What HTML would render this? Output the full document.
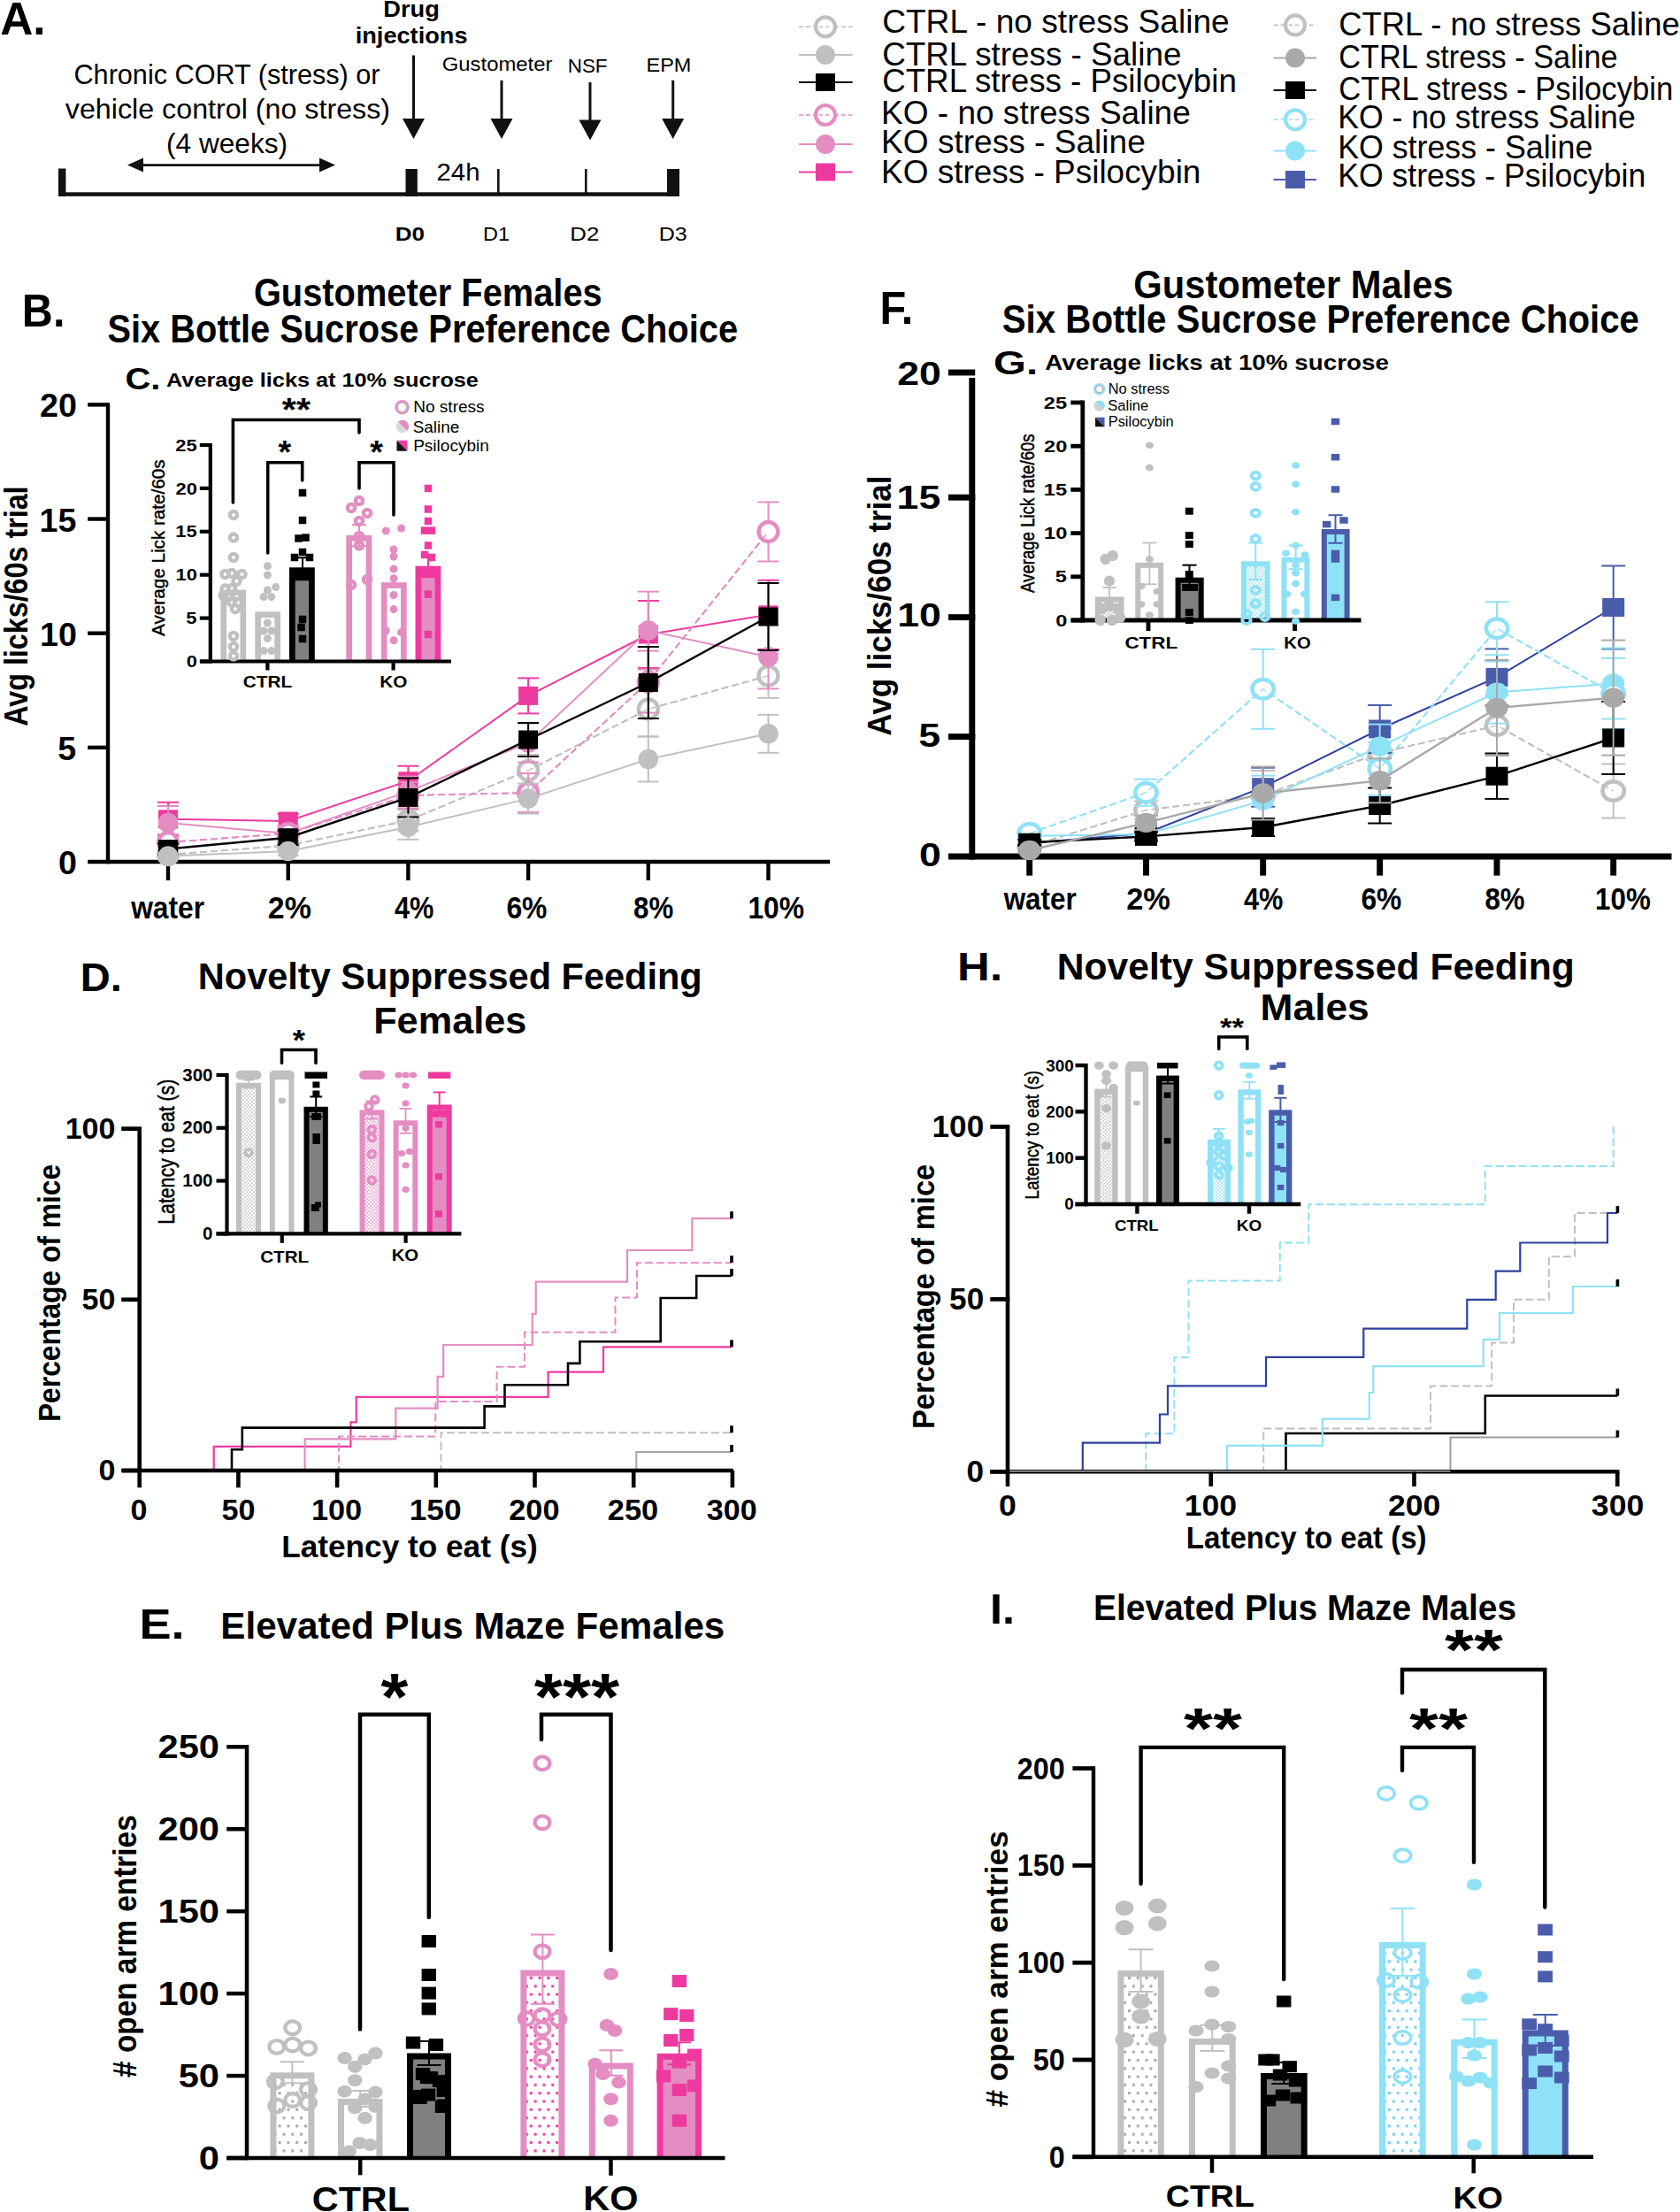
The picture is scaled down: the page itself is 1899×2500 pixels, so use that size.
<!DOCTYPE html>
<html lang="en"><head><meta charset="utf-8"><title>Figure</title>
<style>html,body{margin:0;padding:0;background:#fff}svg{display:block}text{font-family:"Liberation Sans",sans-serif}</style>
</head><body>
<svg width="1899" height="2500" viewBox="0 0 1899 2500">
<rect width="1899" height="2500" fill="#fff"/>
<defs>
<pattern id="psg" width="4" height="4" patternUnits="userSpaceOnUse"><rect width="4" height="4" fill="#fff"/><rect x="0.3" y="0.3" width="1.6" height="1.6" fill="#c0c0c0"/><rect x="2.3" y="2.3" width="1.6" height="1.6" fill="#c0c0c0"/></pattern>
<pattern id="psp" width="4" height="4" patternUnits="userSpaceOnUse"><rect width="4" height="4" fill="#fff"/><rect x="0.3" y="0.3" width="1.6" height="1.6" fill="#e38dc3"/><rect x="2.3" y="2.3" width="1.6" height="1.6" fill="#e38dc3"/></pattern>
<pattern id="psb" width="4" height="4" patternUnits="userSpaceOnUse"><rect width="4" height="4" fill="#fff"/><rect x="0.3" y="0.3" width="1.6" height="1.6" fill="#8fe1f6"/><rect x="2.3" y="2.3" width="1.6" height="1.6" fill="#8fe1f6"/></pattern>
<pattern id="pbg" width="9.8" height="18.6" patternUnits="userSpaceOnUse"><rect width="9.8" height="18.6" fill="#fff"/><rect x="1" y="2" width="3" height="3" fill="#a8a8a8"/><rect x="5.9" y="11.3" width="3" height="3" fill="#a8a8a8"/></pattern>
<pattern id="pbp" width="9.8" height="18.6" patternUnits="userSpaceOnUse"><rect width="9.8" height="18.6" fill="#fff"/><rect x="1" y="2" width="3" height="3" fill="#ee3a9f"/><rect x="5.9" y="11.3" width="3" height="3" fill="#ee3a9f"/></pattern>
<pattern id="pbb" width="9.8" height="18.6" patternUnits="userSpaceOnUse"><rect width="9.8" height="18.6" fill="#fff"/><rect x="1" y="2" width="3" height="3" fill="#6fd0ee"/><rect x="5.9" y="11.3" width="3" height="3" fill="#6fd0ee"/></pattern>
</defs>
<text font-size="52" font-weight="bold" textLength="51.38" lengthAdjust="spacingAndGlyphs" x="0.22" y="39">A.</text>
<text font-size="31.2" textLength="346.1" lengthAdjust="spacingAndGlyphs" x="83.47" y="95">Chronic CORT (stress) or</text>
<text font-size="31.2" textLength="367.2" lengthAdjust="spacingAndGlyphs" x="73.84" y="134">vehicle control (no stress)</text>
<text font-size="31.2" textLength="136.94" lengthAdjust="spacingAndGlyphs" x="188.1" y="172.6">(4 weeks)</text>
<line x1="158" y1="186.6" x2="365" y2="186.6" stroke="#111" stroke-width="2.6"/>
<polygon points="144,186.6 162,178.6 162,194.6" fill="#111"/>
<polygon points="379,186.6 361,178.6 361,194.6" fill="#111"/>
<rect x="66" y="217.3" width="702" height="4.5" fill="#111"/>
<rect x="66" y="190.5" width="8.4" height="31.3" fill="#111"/>
<rect x="458.5" y="191" width="13.3" height="30.8" fill="#111"/>
<rect x="754" y="191" width="14" height="30.8" fill="#111"/>
<line x1="563.3" y1="191" x2="563.3" y2="219" stroke="#111" stroke-width="2.6"/>
<line x1="662.3" y1="191" x2="662.3" y2="219" stroke="#111" stroke-width="2.6"/>
<text font-size="26" font-weight="bold" textLength="63.63" lengthAdjust="spacingAndGlyphs" x="433.23" y="19">Drug</text>
<text font-size="26" font-weight="bold" textLength="126.86" lengthAdjust="spacingAndGlyphs" x="401.7" y="49">injections</text>
<line x1="467.5" y1="62.5" x2="467.5" y2="136" stroke="#111" stroke-width="3"/>
<polygon points="455,134 480,134 467.5,157" fill="#111"/>
<text font-size="22.36" textLength="124.65" lengthAdjust="spacingAndGlyphs" x="499.81" y="80">Gustometer</text>
<line x1="567" y1="90.8" x2="567" y2="136" stroke="#111" stroke-width="3"/>
<polygon points="554.5,134 579.5,134 567,157" fill="#111"/>
<text font-size="22.36" textLength="44.9" lengthAdjust="spacingAndGlyphs" x="641.7" y="82">NSF</text>
<line x1="667" y1="93" x2="667" y2="137.6" stroke="#111" stroke-width="3"/>
<polygon points="654.5,135.6 679.5,135.6 667,158.6" fill="#111"/>
<text font-size="22.36" textLength="50.91" lengthAdjust="spacingAndGlyphs" x="730.52" y="81">EPM</text>
<line x1="760.7" y1="90.8" x2="760.7" y2="136" stroke="#111" stroke-width="3"/>
<polygon points="748.2,134 773.2,134 760.7,157" fill="#111"/>
<text font-size="27.04" textLength="48.98" lengthAdjust="spacingAndGlyphs" x="493.53" y="203.5">24h</text>
<text font-size="22.88" font-weight="bold" textLength="33.32" lengthAdjust="spacingAndGlyphs" x="446.81" y="272">D0</text>
<text font-size="22.88" textLength="30.01" lengthAdjust="spacingAndGlyphs" x="546.12" y="272">D1</text>
<text font-size="22.88" textLength="33.05" lengthAdjust="spacingAndGlyphs" x="644.33" y="272">D2</text>
<text font-size="22.88" textLength="31.99" lengthAdjust="spacingAndGlyphs" x="744.7" y="272">D3</text>
<line x1="903" y1="30.3" x2="963.6" y2="30.3" stroke="#c0c0c0" stroke-width="1.6" stroke-dasharray="5 3"/>
<circle cx="933" cy="30.3" r="11" fill="#fff" stroke="#c0c0c0" stroke-width="4.2"/>
<line x1="926" y1="30.3" x2="940" y2="30.3" stroke="#c0c0c0" stroke-width="1.6" stroke-dasharray="4 3"/>
<text font-size="37.34" textLength="392.63" lengthAdjust="spacingAndGlyphs" x="997.14" y="37.4">CTRL - no stress Saline</text>
<line x1="903" y1="62" x2="963.6" y2="62" stroke="#c0c0c0" stroke-width="1.8"/>
<circle cx="933" cy="62" r="11" fill="#c0c0c0"/>
<text font-size="37.34" textLength="338.2" lengthAdjust="spacingAndGlyphs" x="997.16" y="73.8">CTRL stress - Saline</text>
<line x1="903" y1="93" x2="963.6" y2="93" stroke="#000000" stroke-width="2.2"/>
<rect x="922" y="83" width="22" height="20" fill="#000000"/>
<text font-size="37.34" textLength="400.72" lengthAdjust="spacingAndGlyphs" x="997.16" y="104.1">CTRL stress - Psilocybin</text>
<line x1="903" y1="130" x2="963.6" y2="130" stroke="#e38dc3" stroke-width="1.6" stroke-dasharray="5 3"/>
<circle cx="933" cy="130" r="11" fill="#fff" stroke="#e38dc3" stroke-width="4.2"/>
<line x1="926" y1="130" x2="940" y2="130" stroke="#e38dc3" stroke-width="1.6" stroke-dasharray="4 3"/>
<text font-size="37.34" textLength="349.75" lengthAdjust="spacingAndGlyphs" x="996.04" y="139.7">KO - no stress Saline</text>
<line x1="903" y1="163" x2="963.6" y2="163" stroke="#e38dc3" stroke-width="1.8"/>
<circle cx="933" cy="163" r="11" fill="#e38dc3"/>
<text font-size="37.34" textLength="298.76" lengthAdjust="spacingAndGlyphs" x="996.03" y="172.8">KO stress - Saline</text>
<line x1="903" y1="194.5" x2="963.6" y2="194.5" stroke="#ee3a9f" stroke-width="2.2"/>
<rect x="922" y="184.5" width="22" height="20" fill="#ee3a9f"/>
<text font-size="37.34" textLength="361.37" lengthAdjust="spacingAndGlyphs" x="996.04" y="207.2">KO stress - Psilocybin</text>
<line x1="1439.6" y1="28.4" x2="1488" y2="28.4" stroke="#c0c0c0" stroke-width="1.6" stroke-dasharray="5 3"/>
<circle cx="1464" cy="28.4" r="11" fill="#fff" stroke="#c0c0c0" stroke-width="4.2"/>
<line x1="1457" y1="28.4" x2="1471" y2="28.4" stroke="#c0c0c0" stroke-width="1.6" stroke-dasharray="4 3"/>
<text font-size="37.34" textLength="385.57" lengthAdjust="spacingAndGlyphs" x="1513.18" y="40.4">CTRL - no stress Saline</text>
<line x1="1439.6" y1="65.5" x2="1488" y2="65.5" stroke="#a9a9a9" stroke-width="1.8"/>
<circle cx="1464" cy="65.5" r="11" fill="#a9a9a9"/>
<text font-size="37.34" textLength="315.35" lengthAdjust="spacingAndGlyphs" x="1513.28" y="77">CTRL stress - Saline</text>
<line x1="1439.6" y1="102" x2="1488" y2="102" stroke="#000000" stroke-width="2.2"/>
<rect x="1453" y="92" width="22" height="20" fill="#000000"/>
<text font-size="37.34" textLength="377.98" lengthAdjust="spacingAndGlyphs" x="1513.27" y="113.2">CTRL stress - Psilocybin</text>
<line x1="1439.6" y1="135.3" x2="1488" y2="135.3" stroke="#8fe1f6" stroke-width="1.6" stroke-dasharray="5 3"/>
<circle cx="1464" cy="135.3" r="11" fill="#fff" stroke="#8fe1f6" stroke-width="4.2"/>
<line x1="1457" y1="135.3" x2="1471" y2="135.3" stroke="#8fe1f6" stroke-width="1.6" stroke-dasharray="4 3"/>
<text font-size="37.34" textLength="336.58" lengthAdjust="spacingAndGlyphs" x="1512.15" y="145">KO - no stress Saline</text>
<line x1="1439.6" y1="170.5" x2="1488" y2="170.5" stroke="#8fe1f6" stroke-width="1.8"/>
<circle cx="1464" cy="170.5" r="11" fill="#8fe1f6"/>
<text font-size="37.34" textLength="288.19" lengthAdjust="spacingAndGlyphs" x="1512.14" y="179.4">KO stress - Saline</text>
<line x1="1439.6" y1="203" x2="1488" y2="203" stroke="#4a5dab" stroke-width="2.2"/>
<rect x="1453" y="193" width="22" height="20" fill="#4a5dab"/>
<text font-size="37.34" textLength="348.18" lengthAdjust="spacingAndGlyphs" x="1512.15" y="211.4">KO stress - Psilocybin</text>
<text font-size="52" font-weight="bold" textLength="48.55" lengthAdjust="spacingAndGlyphs" x="24.84" y="369">B.</text>
<text font-size="44.1" font-weight="bold" textLength="393.79" lengthAdjust="spacingAndGlyphs" x="286.91" y="346">Gustometer Females</text>
<text font-size="44.1" font-weight="bold" textLength="712.53" lengthAdjust="spacingAndGlyphs" x="121.51" y="387">Six Bottle Sucrose Preference Choice</text>
<line x1="122" y1="455.3" x2="122" y2="976.2" stroke="#000" stroke-width="4.4"/>
<line x1="99.2" y1="974" x2="938" y2="974" stroke="#000" stroke-width="4.4"/>
<text font-size="37.44" font-weight="bold" textLength="20.94" lengthAdjust="spacingAndGlyphs" x="65.91" y="988">0</text>
<line x1="99.2" y1="844.85" x2="122" y2="844.85" stroke="#000" stroke-width="4.4"/>
<text font-size="37.44" font-weight="bold" textLength="20.94" lengthAdjust="spacingAndGlyphs" x="65.34" y="858.85">5</text>
<line x1="99.2" y1="715.7" x2="122" y2="715.7" stroke="#000" stroke-width="4.4"/>
<text font-size="37.44" font-weight="bold" textLength="41.89" lengthAdjust="spacingAndGlyphs" x="45.01" y="729.7">10</text>
<line x1="99.2" y1="586.55" x2="122" y2="586.55" stroke="#000" stroke-width="4.4"/>
<text font-size="37.44" font-weight="bold" textLength="41.89" lengthAdjust="spacingAndGlyphs" x="44.44" y="600.55">15</text>
<line x1="99.2" y1="457.4" x2="122" y2="457.4" stroke="#000" stroke-width="4.4"/>
<text font-size="37.44" font-weight="bold" textLength="41.89" lengthAdjust="spacingAndGlyphs" x="45.01" y="471.4">20</text>
<line x1="190" y1="974" x2="190" y2="995" stroke="#000" stroke-width="4.4"/>
<line x1="325.7" y1="974" x2="325.7" y2="995" stroke="#000" stroke-width="4.4"/>
<line x1="461.4" y1="974" x2="461.4" y2="995" stroke="#000" stroke-width="4.4"/>
<line x1="597.1" y1="974" x2="597.1" y2="995" stroke="#000" stroke-width="4.4"/>
<line x1="732.8" y1="974" x2="732.8" y2="995" stroke="#000" stroke-width="4.4"/>
<line x1="868.5" y1="974" x2="868.5" y2="995" stroke="#000" stroke-width="4.4"/>
<text font-size="35.36" font-weight="bold" textLength="82.83" lengthAdjust="spacingAndGlyphs" x="148.16" y="1037.6">water</text>
<text font-size="35.36" font-weight="bold" textLength="49.05" lengthAdjust="spacingAndGlyphs" x="302.81" y="1037.6">2%</text>
<text font-size="35.36" font-weight="bold" textLength="44.44" lengthAdjust="spacingAndGlyphs" x="445.94" y="1037.6">4%</text>
<text font-size="35.36" font-weight="bold" textLength="46.02" lengthAdjust="spacingAndGlyphs" x="572.39" y="1037.6">6%</text>
<text font-size="35.36" font-weight="bold" textLength="45.13" lengthAdjust="spacingAndGlyphs" x="716.06" y="1037.6">8%</text>
<text font-size="35.36" font-weight="bold" textLength="63.75" lengthAdjust="spacingAndGlyphs" x="845.39" y="1037.6">10%</text>
<text font-size="37.44" font-weight="bold" textLength="271.37" lengthAdjust="spacingAndGlyphs" transform="translate(31,820.81) rotate(-90)">Avg licks/60s trial</text>
<line x1="190" y1="963" x2="190" y2="969" stroke="#c0c0c0" stroke-width="2"/>
<line x1="178" y1="963" x2="202" y2="963" stroke="#c0c0c0" stroke-width="2"/>
<line x1="178" y1="969" x2="202" y2="969" stroke="#c0c0c0" stroke-width="2"/>
<line x1="325.7" y1="949.6" x2="325.7" y2="961.6" stroke="#c0c0c0" stroke-width="2"/>
<line x1="313.7" y1="949.6" x2="337.7" y2="949.6" stroke="#c0c0c0" stroke-width="2"/>
<line x1="313.7" y1="961.6" x2="337.7" y2="961.6" stroke="#c0c0c0" stroke-width="2"/>
<line x1="461.4" y1="915.3" x2="461.4" y2="939.3" stroke="#c0c0c0" stroke-width="2"/>
<line x1="449.4" y1="915.3" x2="473.4" y2="915.3" stroke="#c0c0c0" stroke-width="2"/>
<line x1="449.4" y1="939.3" x2="473.4" y2="939.3" stroke="#c0c0c0" stroke-width="2"/>
<line x1="597.1" y1="852.8" x2="597.1" y2="888.8" stroke="#c0c0c0" stroke-width="2"/>
<line x1="585.1" y1="852.8" x2="609.1" y2="852.8" stroke="#c0c0c0" stroke-width="2"/>
<line x1="585.1" y1="888.8" x2="609.1" y2="888.8" stroke="#c0c0c0" stroke-width="2"/>
<line x1="732.8" y1="770.4" x2="732.8" y2="832.4" stroke="#c0c0c0" stroke-width="2"/>
<line x1="720.8" y1="770.4" x2="744.8" y2="770.4" stroke="#c0c0c0" stroke-width="2"/>
<line x1="720.8" y1="832.4" x2="744.8" y2="832.4" stroke="#c0c0c0" stroke-width="2"/>
<line x1="868.5" y1="738.8" x2="868.5" y2="788.8" stroke="#c0c0c0" stroke-width="2"/>
<line x1="856.5" y1="738.8" x2="880.5" y2="738.8" stroke="#c0c0c0" stroke-width="2"/>
<line x1="856.5" y1="788.8" x2="880.5" y2="788.8" stroke="#c0c0c0" stroke-width="2"/>
<path d="M190 966 L325.7 955.6 L461.4 927.3 L597.1 870.8 L732.8 801.4 L868.5 763.8" fill="none" stroke="#c0c0c0" stroke-width="2" stroke-dasharray="8 4"/>
<ellipse cx="190" cy="966" rx="10.9" ry="10.9" fill="#fff" stroke="#c0c0c0" stroke-width="4.5"/>
<ellipse cx="325.7" cy="955.6" rx="10.9" ry="10.9" fill="#fff" stroke="#c0c0c0" stroke-width="4.5"/>
<ellipse cx="461.4" cy="927.3" rx="10.9" ry="10.9" fill="#fff" stroke="#c0c0c0" stroke-width="4.5"/>
<ellipse cx="597.1" cy="870.8" rx="10.9" ry="10.9" fill="#fff" stroke="#c0c0c0" stroke-width="4.5"/>
<ellipse cx="732.8" cy="801.4" rx="10.9" ry="10.9" fill="#fff" stroke="#c0c0c0" stroke-width="4.5"/>
<ellipse cx="868.5" cy="763.8" rx="10.9" ry="10.9" fill="#fff" stroke="#c0c0c0" stroke-width="4.5"/>
<path d="M190 966 L325.7 955.6 L461.4 927.3 L597.1 870.8 L732.8 801.4 L868.5 763.8" fill="none" stroke="#c0c0c0" stroke-width="1.6" stroke-dasharray="8 4" opacity="0.9"/>
<line x1="190" y1="906.8" x2="190" y2="944.8" stroke="#ee3a9f" stroke-width="2"/>
<line x1="178" y1="906.8" x2="202" y2="906.8" stroke="#ee3a9f" stroke-width="2"/>
<line x1="178" y1="944.8" x2="202" y2="944.8" stroke="#ee3a9f" stroke-width="2"/>
<line x1="325.7" y1="920" x2="325.7" y2="936" stroke="#ee3a9f" stroke-width="2"/>
<line x1="313.7" y1="920" x2="337.7" y2="920" stroke="#ee3a9f" stroke-width="2"/>
<line x1="313.7" y1="936" x2="337.7" y2="936" stroke="#ee3a9f" stroke-width="2"/>
<line x1="461.4" y1="865.7" x2="461.4" y2="899.7" stroke="#ee3a9f" stroke-width="2"/>
<line x1="449.4" y1="865.7" x2="473.4" y2="865.7" stroke="#ee3a9f" stroke-width="2"/>
<line x1="449.4" y1="899.7" x2="473.4" y2="899.7" stroke="#ee3a9f" stroke-width="2"/>
<line x1="597.1" y1="766.4" x2="597.1" y2="806.4" stroke="#ee3a9f" stroke-width="2"/>
<line x1="585.1" y1="766.4" x2="609.1" y2="766.4" stroke="#ee3a9f" stroke-width="2"/>
<line x1="585.1" y1="806.4" x2="609.1" y2="806.4" stroke="#ee3a9f" stroke-width="2"/>
<line x1="732.8" y1="679" x2="732.8" y2="755" stroke="#ee3a9f" stroke-width="2"/>
<line x1="720.8" y1="679" x2="744.8" y2="679" stroke="#ee3a9f" stroke-width="2"/>
<line x1="720.8" y1="755" x2="744.8" y2="755" stroke="#ee3a9f" stroke-width="2"/>
<line x1="868.5" y1="655.8" x2="868.5" y2="733.8" stroke="#ee3a9f" stroke-width="2"/>
<line x1="856.5" y1="655.8" x2="880.5" y2="655.8" stroke="#ee3a9f" stroke-width="2"/>
<line x1="856.5" y1="733.8" x2="880.5" y2="733.8" stroke="#ee3a9f" stroke-width="2"/>
<path d="M190 925.8 L325.7 928 L461.4 882.7 L597.1 786.4 L732.8 717 L868.5 694.8" fill="none" stroke="#ee3a9f" stroke-width="2"/>
<rect x="179" y="915.3" width="22" height="21" fill="#ee3a9f"/>
<rect x="314.7" y="917.5" width="22" height="21" fill="#ee3a9f"/>
<rect x="450.4" y="872.2" width="22" height="21" fill="#ee3a9f"/>
<rect x="586.1" y="775.9" width="22" height="21" fill="#ee3a9f"/>
<rect x="721.8" y="706.5" width="22" height="21" fill="#ee3a9f"/>
<rect x="857.5" y="684.3" width="22" height="21" fill="#ee3a9f"/>
<line x1="190" y1="911" x2="190" y2="949" stroke="#e38dc3" stroke-width="2"/>
<line x1="178" y1="911" x2="202" y2="911" stroke="#e38dc3" stroke-width="2"/>
<line x1="178" y1="949" x2="202" y2="949" stroke="#e38dc3" stroke-width="2"/>
<line x1="325.7" y1="933" x2="325.7" y2="951" stroke="#e38dc3" stroke-width="2"/>
<line x1="313.7" y1="933" x2="337.7" y2="933" stroke="#e38dc3" stroke-width="2"/>
<line x1="313.7" y1="951" x2="337.7" y2="951" stroke="#e38dc3" stroke-width="2"/>
<line x1="461.4" y1="877.6" x2="461.4" y2="911.6" stroke="#e38dc3" stroke-width="2"/>
<line x1="449.4" y1="877.6" x2="473.4" y2="877.6" stroke="#e38dc3" stroke-width="2"/>
<line x1="449.4" y1="911.6" x2="473.4" y2="911.6" stroke="#e38dc3" stroke-width="2"/>
<line x1="597.1" y1="817.5" x2="597.1" y2="861.5" stroke="#e38dc3" stroke-width="2"/>
<line x1="585.1" y1="817.5" x2="609.1" y2="817.5" stroke="#e38dc3" stroke-width="2"/>
<line x1="585.1" y1="861.5" x2="609.1" y2="861.5" stroke="#e38dc3" stroke-width="2"/>
<line x1="732.8" y1="668.6" x2="732.8" y2="756.6" stroke="#e38dc3" stroke-width="2"/>
<line x1="720.8" y1="668.6" x2="744.8" y2="668.6" stroke="#e38dc3" stroke-width="2"/>
<line x1="720.8" y1="756.6" x2="744.8" y2="756.6" stroke="#e38dc3" stroke-width="2"/>
<line x1="868.5" y1="706.4" x2="868.5" y2="778.4" stroke="#e38dc3" stroke-width="2"/>
<line x1="856.5" y1="706.4" x2="880.5" y2="706.4" stroke="#e38dc3" stroke-width="2"/>
<line x1="856.5" y1="778.4" x2="880.5" y2="778.4" stroke="#e38dc3" stroke-width="2"/>
<path d="M190 930 L325.7 942 L461.4 894.6 L597.1 839.5 L732.8 712.6 L868.5 742.4" fill="none" stroke="#e38dc3" stroke-width="2"/>
<ellipse cx="190" cy="930" rx="11.3" ry="11.3" fill="#e38dc3"/>
<ellipse cx="325.7" cy="942" rx="11.3" ry="11.3" fill="#e38dc3"/>
<ellipse cx="461.4" cy="894.6" rx="11.3" ry="11.3" fill="#e38dc3"/>
<ellipse cx="597.1" cy="839.5" rx="11.3" ry="11.3" fill="#e38dc3"/>
<ellipse cx="732.8" cy="712.6" rx="11.3" ry="11.3" fill="#e38dc3"/>
<ellipse cx="868.5" cy="742.4" rx="11.3" ry="11.3" fill="#e38dc3"/>
<line x1="190" y1="943" x2="190" y2="961" stroke="#e38dc3" stroke-width="2"/>
<line x1="178" y1="943" x2="202" y2="943" stroke="#e38dc3" stroke-width="2"/>
<line x1="178" y1="961" x2="202" y2="961" stroke="#e38dc3" stroke-width="2"/>
<line x1="325.7" y1="934" x2="325.7" y2="950" stroke="#e38dc3" stroke-width="2"/>
<line x1="313.7" y1="934" x2="337.7" y2="934" stroke="#e38dc3" stroke-width="2"/>
<line x1="313.7" y1="950" x2="337.7" y2="950" stroke="#e38dc3" stroke-width="2"/>
<line x1="461.4" y1="884" x2="461.4" y2="914" stroke="#e38dc3" stroke-width="2"/>
<line x1="449.4" y1="884" x2="473.4" y2="884" stroke="#e38dc3" stroke-width="2"/>
<line x1="449.4" y1="914" x2="473.4" y2="914" stroke="#e38dc3" stroke-width="2"/>
<line x1="597.1" y1="874" x2="597.1" y2="918" stroke="#e38dc3" stroke-width="2"/>
<line x1="585.1" y1="874" x2="609.1" y2="874" stroke="#e38dc3" stroke-width="2"/>
<line x1="585.1" y1="918" x2="609.1" y2="918" stroke="#e38dc3" stroke-width="2"/>
<line x1="732.8" y1="735.6" x2="732.8" y2="805.6" stroke="#e38dc3" stroke-width="2"/>
<line x1="720.8" y1="735.6" x2="744.8" y2="735.6" stroke="#e38dc3" stroke-width="2"/>
<line x1="720.8" y1="805.6" x2="744.8" y2="805.6" stroke="#e38dc3" stroke-width="2"/>
<line x1="868.5" y1="567.5" x2="868.5" y2="634.5" stroke="#e38dc3" stroke-width="2"/>
<line x1="856.5" y1="567.5" x2="880.5" y2="567.5" stroke="#e38dc3" stroke-width="2"/>
<line x1="856.5" y1="634.5" x2="880.5" y2="634.5" stroke="#e38dc3" stroke-width="2"/>
<path d="M190 952 L325.7 942 L461.4 899 L597.1 896 L732.8 770.6 L868.5 601" fill="none" stroke="#e38dc3" stroke-width="2" stroke-dasharray="8 4"/>
<ellipse cx="190" cy="952" rx="10.9" ry="10.9" fill="#fff" stroke="#e38dc3" stroke-width="4.5"/>
<ellipse cx="325.7" cy="942" rx="10.9" ry="10.9" fill="#fff" stroke="#e38dc3" stroke-width="4.5"/>
<ellipse cx="461.4" cy="899" rx="10.9" ry="10.9" fill="#fff" stroke="#e38dc3" stroke-width="4.5"/>
<ellipse cx="597.1" cy="896" rx="10.9" ry="10.9" fill="#fff" stroke="#e38dc3" stroke-width="4.5"/>
<ellipse cx="732.8" cy="770.6" rx="10.9" ry="10.9" fill="#fff" stroke="#e38dc3" stroke-width="4.5"/>
<ellipse cx="868.5" cy="601" rx="10.9" ry="10.9" fill="#fff" stroke="#e38dc3" stroke-width="4.5"/>
<path d="M190 952 L325.7 942 L461.4 899 L597.1 896 L732.8 770.6 L868.5 601" fill="none" stroke="#e38dc3" stroke-width="1.6" stroke-dasharray="8 4" opacity="0.9"/>
<line x1="190" y1="953.5" x2="190" y2="965.5" stroke="#000000" stroke-width="2"/>
<line x1="178" y1="953.5" x2="202" y2="953.5" stroke="#000000" stroke-width="2"/>
<line x1="178" y1="965.5" x2="202" y2="965.5" stroke="#000000" stroke-width="2"/>
<line x1="325.7" y1="938.7" x2="325.7" y2="954.7" stroke="#000000" stroke-width="2"/>
<line x1="313.7" y1="938.7" x2="337.7" y2="938.7" stroke="#000000" stroke-width="2"/>
<line x1="313.7" y1="954.7" x2="337.7" y2="954.7" stroke="#000000" stroke-width="2"/>
<line x1="461.4" y1="879.4" x2="461.4" y2="923.4" stroke="#000000" stroke-width="2"/>
<line x1="449.4" y1="879.4" x2="473.4" y2="879.4" stroke="#000000" stroke-width="2"/>
<line x1="449.4" y1="923.4" x2="473.4" y2="923.4" stroke="#000000" stroke-width="2"/>
<line x1="597.1" y1="817" x2="597.1" y2="855" stroke="#000000" stroke-width="2"/>
<line x1="585.1" y1="817" x2="609.1" y2="817" stroke="#000000" stroke-width="2"/>
<line x1="585.1" y1="855" x2="609.1" y2="855" stroke="#000000" stroke-width="2"/>
<line x1="732.8" y1="731" x2="732.8" y2="812" stroke="#000000" stroke-width="2"/>
<line x1="720.8" y1="731" x2="744.8" y2="731" stroke="#000000" stroke-width="2"/>
<line x1="720.8" y1="812" x2="744.8" y2="812" stroke="#000000" stroke-width="2"/>
<line x1="868.5" y1="659" x2="868.5" y2="735" stroke="#000000" stroke-width="2"/>
<line x1="856.5" y1="659" x2="880.5" y2="659" stroke="#000000" stroke-width="2"/>
<line x1="856.5" y1="735" x2="880.5" y2="735" stroke="#000000" stroke-width="2"/>
<path d="M190 959.5 L325.7 946.7 L461.4 901.4 L597.1 836 L732.8 771.5 L868.5 697" fill="none" stroke="#000000" stroke-width="2.4"/>
<rect x="179" y="949" width="22" height="21" fill="#000000"/>
<rect x="314.7" y="936.2" width="22" height="21" fill="#000000"/>
<rect x="450.4" y="890.9" width="22" height="21" fill="#000000"/>
<rect x="586.1" y="825.5" width="22" height="21" fill="#000000"/>
<rect x="721.8" y="761" width="22" height="21" fill="#000000"/>
<rect x="857.5" y="686.5" width="22" height="21" fill="#000000"/>
<line x1="190" y1="964.5" x2="190" y2="970.5" stroke="#c0c0c0" stroke-width="2"/>
<line x1="178" y1="964.5" x2="202" y2="964.5" stroke="#c0c0c0" stroke-width="2"/>
<line x1="178" y1="970.5" x2="202" y2="970.5" stroke="#c0c0c0" stroke-width="2"/>
<line x1="325.7" y1="957" x2="325.7" y2="967" stroke="#c0c0c0" stroke-width="2"/>
<line x1="313.7" y1="957" x2="337.7" y2="957" stroke="#c0c0c0" stroke-width="2"/>
<line x1="313.7" y1="967" x2="337.7" y2="967" stroke="#c0c0c0" stroke-width="2"/>
<line x1="461.4" y1="920.8" x2="461.4" y2="948.8" stroke="#c0c0c0" stroke-width="2"/>
<line x1="449.4" y1="920.8" x2="473.4" y2="920.8" stroke="#c0c0c0" stroke-width="2"/>
<line x1="449.4" y1="948.8" x2="473.4" y2="948.8" stroke="#c0c0c0" stroke-width="2"/>
<line x1="597.1" y1="885.6" x2="597.1" y2="919.6" stroke="#c0c0c0" stroke-width="2"/>
<line x1="585.1" y1="885.6" x2="609.1" y2="885.6" stroke="#c0c0c0" stroke-width="2"/>
<line x1="585.1" y1="919.6" x2="609.1" y2="919.6" stroke="#c0c0c0" stroke-width="2"/>
<line x1="732.8" y1="832.5" x2="732.8" y2="883.5" stroke="#c0c0c0" stroke-width="2"/>
<line x1="720.8" y1="832.5" x2="744.8" y2="832.5" stroke="#c0c0c0" stroke-width="2"/>
<line x1="720.8" y1="883.5" x2="744.8" y2="883.5" stroke="#c0c0c0" stroke-width="2"/>
<line x1="868.5" y1="807.8" x2="868.5" y2="850.8" stroke="#c0c0c0" stroke-width="2"/>
<line x1="856.5" y1="807.8" x2="880.5" y2="807.8" stroke="#c0c0c0" stroke-width="2"/>
<line x1="856.5" y1="850.8" x2="880.5" y2="850.8" stroke="#c0c0c0" stroke-width="2"/>
<path d="M190 967.5 L325.7 962 L461.4 934.8 L597.1 902.6 L732.8 858 L868.5 829.3" fill="none" stroke="#c0c0c0" stroke-width="2"/>
<ellipse cx="190" cy="967.5" rx="11.3" ry="11.3" fill="#c0c0c0"/>
<ellipse cx="325.7" cy="962" rx="11.3" ry="11.3" fill="#c0c0c0"/>
<ellipse cx="461.4" cy="934.8" rx="11.3" ry="11.3" fill="#c0c0c0"/>
<ellipse cx="597.1" cy="902.6" rx="11.3" ry="11.3" fill="#c0c0c0"/>
<ellipse cx="732.8" cy="858" rx="11.3" ry="11.3" fill="#c0c0c0"/>
<ellipse cx="868.5" cy="829.3" rx="11.3" ry="11.3" fill="#c0c0c0"/>
<text font-size="34.32" font-weight="bold" textLength="40" lengthAdjust="spacingAndGlyphs" x="141.4" y="440">C.</text>
<text font-size="22.46" font-weight="bold" textLength="352.85" lengthAdjust="spacingAndGlyphs" x="188.07" y="437">Average licks at 10% sucrose</text>
<rect x="249.4" y="666.5" width="28.8" height="81" fill="#c0c0c0"/>
<rect x="256.1" y="673.2" width="15.4" height="74.3" fill="#fff"/>
<rect x="288.3" y="691.3" width="28.7" height="56.2" fill="#c0c0c0"/>
<rect x="295" y="698" width="15.3" height="49.5" fill="#fff"/>
<rect x="327" y="641.3" width="28.8" height="106.2" fill="#000000"/>
<rect x="333.7" y="648" width="15.4" height="99.5" fill="#7f8180"/>
<rect x="391.3" y="605" width="29" height="142.5" fill="#e38dc3"/>
<rect x="398" y="611.7" width="15.6" height="135.8" fill="#fff"/>
<rect x="430.8" y="658.2" width="28.9" height="89.3" fill="#e38dc3"/>
<rect x="437.5" y="664.9" width="15.5" height="82.6" fill="#fff"/>
<rect x="469.5" y="639.7" width="28.8" height="107.8" fill="#ee3a9f"/>
<rect x="476.2" y="646.4" width="15.4" height="101.1" fill="#e38dc3"/>
<line x1="264.6" y1="661.3" x2="264.6" y2="671.3" stroke="#c0c0c0" stroke-width="1.6"/>
<line x1="257.6" y1="661.3" x2="271.6" y2="661.3" stroke="#c0c0c0" stroke-width="1.6"/>
<line x1="257.6" y1="671.3" x2="271.6" y2="671.3" stroke="#c0c0c0" stroke-width="1.6"/>
<line x1="342" y1="630.3" x2="342" y2="652.3" stroke="#000000" stroke-width="2"/>
<line x1="334" y1="630.3" x2="350" y2="630.3" stroke="#000000" stroke-width="2"/>
<line x1="334" y1="652.3" x2="350" y2="652.3" stroke="#000000" stroke-width="2"/>
<line x1="406" y1="593.2" x2="406" y2="617.2" stroke="#e38dc3" stroke-width="2"/>
<line x1="398" y1="593.2" x2="414" y2="593.2" stroke="#e38dc3" stroke-width="2"/>
<line x1="398" y1="617.2" x2="414" y2="617.2" stroke="#e38dc3" stroke-width="2"/>
<line x1="484" y1="627.8" x2="484" y2="651.8" stroke="#ee3a9f" stroke-width="2"/>
<line x1="476" y1="627.8" x2="492" y2="627.8" stroke="#ee3a9f" stroke-width="2"/>
<line x1="476" y1="651.8" x2="492" y2="651.8" stroke="#ee3a9f" stroke-width="2"/>
<line x1="237.8" y1="501.1" x2="237.8" y2="749.6" stroke="#000" stroke-width="4.2"/>
<line x1="226" y1="747.5" x2="510" y2="747.5" stroke="#000" stroke-width="4.2"/>
<line x1="225.8" y1="747.5" x2="237.8" y2="747.5" stroke="#000" stroke-width="4.2"/>
<text font-size="19.24" font-weight="bold" textLength="12.18" lengthAdjust="spacingAndGlyphs" x="210.72" y="754.16">0</text>
<line x1="225.8" y1="698.6" x2="237.8" y2="698.6" stroke="#000" stroke-width="4.2"/>
<text font-size="19.24" font-weight="bold" textLength="12.18" lengthAdjust="spacingAndGlyphs" x="210.39" y="705.26">5</text>
<line x1="225.8" y1="649.7" x2="237.8" y2="649.7" stroke="#000" stroke-width="4.2"/>
<text font-size="19.24" font-weight="bold" textLength="24.37" lengthAdjust="spacingAndGlyphs" x="198.56" y="656.36">10</text>
<line x1="225.8" y1="600.8" x2="237.8" y2="600.8" stroke="#000" stroke-width="4.2"/>
<text font-size="19.24" font-weight="bold" textLength="24.37" lengthAdjust="spacingAndGlyphs" x="198.23" y="607.46">15</text>
<line x1="225.8" y1="551.9" x2="237.8" y2="551.9" stroke="#000" stroke-width="4.2"/>
<text font-size="19.24" font-weight="bold" textLength="24.37" lengthAdjust="spacingAndGlyphs" x="198.56" y="558.56">20</text>
<line x1="225.8" y1="503" x2="237.8" y2="503" stroke="#000" stroke-width="4.2"/>
<text font-size="19.24" font-weight="bold" textLength="24.37" lengthAdjust="spacingAndGlyphs" x="198.23" y="509.66">25</text>
<line x1="302.4" y1="747.5" x2="302.4" y2="757.5" stroke="#000" stroke-width="4.2"/>
<line x1="444.6" y1="747.5" x2="444.6" y2="757.5" stroke="#000" stroke-width="4.2"/>
<circle cx="264" cy="582" r="4.1" fill="none" stroke="#c0c0c0" stroke-width="4.3"/>
<circle cx="264" cy="607.6" r="4.1" fill="none" stroke="#c0c0c0" stroke-width="4.3"/>
<circle cx="264" cy="630" r="4.1" fill="none" stroke="#c0c0c0" stroke-width="4.3"/>
<circle cx="254.5" cy="649" r="4.1" fill="none" stroke="#c0c0c0" stroke-width="4.3"/>
<circle cx="262" cy="648" r="4.1" fill="none" stroke="#c0c0c0" stroke-width="4.3"/>
<circle cx="273.5" cy="649" r="4.1" fill="none" stroke="#c0c0c0" stroke-width="4.3"/>
<circle cx="267.5" cy="656.7" r="4.1" fill="none" stroke="#c0c0c0" stroke-width="4.3"/>
<circle cx="254.5" cy="665.6" r="4.1" fill="none" stroke="#c0c0c0" stroke-width="4.3"/>
<circle cx="262" cy="665" r="4.1" fill="none" stroke="#c0c0c0" stroke-width="4.3"/>
<circle cx="252.7" cy="673" r="4.1" fill="none" stroke="#c0c0c0" stroke-width="4.3"/>
<circle cx="258.6" cy="674" r="4.1" fill="none" stroke="#c0c0c0" stroke-width="4.3"/>
<circle cx="267.5" cy="673" r="4.1" fill="none" stroke="#c0c0c0" stroke-width="4.3"/>
<circle cx="262" cy="680.5" r="4.1" fill="none" stroke="#c0c0c0" stroke-width="4.3"/>
<circle cx="269" cy="681" r="4.1" fill="none" stroke="#c0c0c0" stroke-width="4.3"/>
<circle cx="266" cy="688" r="4.1" fill="none" stroke="#c0c0c0" stroke-width="4.3"/>
<circle cx="264" cy="719" r="4.1" fill="none" stroke="#c0c0c0" stroke-width="4.3"/>
<circle cx="264" cy="731" r="4.1" fill="none" stroke="#c0c0c0" stroke-width="4.3"/>
<circle cx="264" cy="741.5" r="4.1" fill="none" stroke="#c0c0c0" stroke-width="4.3"/>
<circle cx="302.4" cy="639.8" r="4.5" fill="#c0c0c0"/>
<circle cx="302.4" cy="650" r="4.5" fill="#c0c0c0"/>
<circle cx="302.4" cy="667" r="4.5" fill="#c0c0c0"/>
<circle cx="311.6" cy="663.6" r="4.5" fill="#c0c0c0"/>
<circle cx="298" cy="674.6" r="4.5" fill="#c0c0c0"/>
<circle cx="306.8" cy="674.6" r="4.5" fill="#c0c0c0"/>
<circle cx="302.4" cy="704" r="4.5" fill="#c0c0c0"/>
<circle cx="298" cy="713" r="4.5" fill="#c0c0c0"/>
<circle cx="306.8" cy="713" r="4.5" fill="#c0c0c0"/>
<circle cx="302.4" cy="721.6" r="4.5" fill="#c0c0c0"/>
<circle cx="298" cy="735.6" r="4.5" fill="#c0c0c0"/>
<circle cx="306.8" cy="735.6" r="4.5" fill="#c0c0c0"/>
<rect x="337.75" y="552.75" width="8.5" height="8.5" fill="#000000"/>
<rect x="337.75" y="583.75" width="8.5" height="8.5" fill="#000000"/>
<rect x="333.25" y="604.25" width="8.5" height="8.5" fill="#000000"/>
<rect x="341.25" y="603.35" width="8.5" height="8.5" fill="#000000"/>
<rect x="337.75" y="619.75" width="8.5" height="8.5" fill="#000000"/>
<rect x="328.75" y="625.75" width="8.5" height="8.5" fill="#000000"/>
<rect x="345.75" y="625.75" width="8.5" height="8.5" fill="#000000"/>
<rect x="333.25" y="647.75" width="8.5" height="8.5" fill="#000000"/>
<rect x="341.25" y="647.75" width="8.5" height="8.5" fill="#000000"/>
<rect x="337.75" y="695.75" width="8.5" height="8.5" fill="#000000"/>
<rect x="336.25" y="704.75" width="8.5" height="8.5" fill="#000000"/>
<rect x="337.75" y="717.75" width="8.5" height="8.5" fill="#000000"/>
<circle cx="406" cy="566" r="4.1" fill="none" stroke="#e38dc3" stroke-width="4.3"/>
<circle cx="397" cy="574" r="4.1" fill="none" stroke="#e38dc3" stroke-width="4.3"/>
<circle cx="415" cy="580" r="4.1" fill="none" stroke="#e38dc3" stroke-width="4.3"/>
<circle cx="406" cy="589" r="4.1" fill="none" stroke="#e38dc3" stroke-width="4.3"/>
<circle cx="406" cy="606" r="4.1" fill="none" stroke="#e38dc3" stroke-width="4.3"/>
<circle cx="406" cy="616.5" r="4.1" fill="none" stroke="#e38dc3" stroke-width="4.3"/>
<circle cx="397" cy="661" r="4.1" fill="none" stroke="#e38dc3" stroke-width="4.3"/>
<circle cx="415" cy="655" r="4.1" fill="none" stroke="#e38dc3" stroke-width="4.3"/>
<circle cx="436.3" cy="600" r="4.5" fill="#e38dc3"/>
<circle cx="453.6" cy="597" r="4.5" fill="#e38dc3"/>
<circle cx="445" cy="621" r="4.5" fill="#e38dc3"/>
<circle cx="445" cy="629" r="4.5" fill="#e38dc3"/>
<circle cx="445" cy="643" r="4.5" fill="#e38dc3"/>
<circle cx="445" cy="653.8" r="4.5" fill="#e38dc3"/>
<circle cx="445" cy="672.5" r="4.5" fill="#e38dc3"/>
<circle cx="445" cy="688.6" r="4.5" fill="#e38dc3"/>
<circle cx="436.3" cy="712.7" r="4.5" fill="#e38dc3"/>
<circle cx="453.6" cy="714.8" r="4.5" fill="#e38dc3"/>
<circle cx="445" cy="723.7" r="4.5" fill="#e38dc3"/>
<rect x="479.75" y="547.75" width="8.5" height="8.5" fill="#ee3a9f"/>
<rect x="479.75" y="571.25" width="8.5" height="8.5" fill="#ee3a9f"/>
<rect x="479.75" y="584.75" width="8.5" height="8.5" fill="#ee3a9f"/>
<rect x="475.75" y="595.35" width="8.5" height="8.5" fill="#ee3a9f"/>
<rect x="483.75" y="595.35" width="8.5" height="8.5" fill="#ee3a9f"/>
<rect x="479.75" y="612.25" width="8.5" height="8.5" fill="#ee3a9f"/>
<rect x="475.75" y="622.75" width="8.5" height="8.5" fill="#ee3a9f"/>
<rect x="483.75" y="625.75" width="8.5" height="8.5" fill="#ee3a9f"/>
<rect x="475.75" y="644.75" width="8.5" height="8.5" fill="#ee3a9f"/>
<rect x="483.75" y="644.75" width="8.5" height="8.5" fill="#ee3a9f"/>
<rect x="479.75" y="667.35" width="8.5" height="8.5" fill="#ee3a9f"/>
<rect x="479.75" y="712.75" width="8.5" height="8.5" fill="#ee3a9f"/>
<text font-size="18.1" font-weight="bold" textLength="55.38" lengthAdjust="spacingAndGlyphs" x="274.77" y="777">CTRL</text>
<text font-size="18.1" font-weight="bold" textLength="31.08" lengthAdjust="spacingAndGlyphs" x="429.35" y="777">KO</text>
<text font-size="20.8" textLength="199.7" lengthAdjust="spacingAndGlyphs" transform="translate(185.7,719) rotate(-90)" stroke="#000" stroke-width="0.45">Average Lick rate/60s</text>
<path d="M263.4 568 V474.5 H406 V489" fill="none" stroke="#000" stroke-width="3.6" stroke-linejoin="miter" stroke-linecap="round"/>
<path d="M302.7 625 V522.7 H341.7 V543" fill="none" stroke="#000" stroke-width="3.6" stroke-linejoin="miter" stroke-linecap="round"/>
<path d="M406 552 V522.7 H445 V582" fill="none" stroke="#000" stroke-width="3.6" stroke-linejoin="miter" stroke-linecap="round"/>
<text font-size="36.12" font-weight="bold" textLength="32.21" lengthAdjust="spacingAndGlyphs" x="318.88" y="475.65">**</text>
<text font-size="36.12" font-weight="bold" textLength="14.69" lengthAdjust="spacingAndGlyphs" x="314.64" y="524.15">*</text>
<text font-size="36.12" font-weight="bold" textLength="14.69" lengthAdjust="spacingAndGlyphs" x="418.24" y="524.15">*</text>
<circle cx="454.5" cy="460.3" r="6.9" fill="#fff" stroke="#e38dc3" stroke-width="2.6"/>
<circle cx="454.5" cy="460.3" r="5" fill="none" stroke="#b5bdb8" stroke-width="1.3"/>
<text font-size="18.3" textLength="80.46" lengthAdjust="spacingAndGlyphs" x="467.18" y="466.2">No stress</text>
<g transform="translate(455,482) rotate(45)"><path d="M-7.2 0 A7.2 7.2 0 0 1 7.2 0 Z" fill="#e38dc3"/><path d="M-7.2 0 A7.2 7.2 0 0 0 7.2 0 Z" fill="#d5d9d7"/></g>
<text font-size="18.3" textLength="52.7" lengthAdjust="spacingAndGlyphs" x="466.65" y="488.5">Saline</text>
<polygon points="448.5,497.7 460.5,497.7 460.5,509.7" fill="#ee3a9f"/>
<polygon points="448.5,497.7 448.5,509.7 460.5,509.7" fill="#111"/>
<text font-size="18.3" textLength="85.6" lengthAdjust="spacingAndGlyphs" x="467.18" y="509.7">Psilocybin</text>
<text font-size="52" font-weight="bold" textLength="37.87" lengthAdjust="spacingAndGlyphs" x="994.44" y="366.3">F.</text>
<text font-size="44.1" font-weight="bold" textLength="361.32" lengthAdjust="spacingAndGlyphs" x="1281.33" y="336.5">Gustometer Males</text>
<text font-size="44.1" font-weight="bold" textLength="720.15" lengthAdjust="spacingAndGlyphs" x="1132.79" y="375.5">Six Bottle Sucrose Preference Choice</text>
<line x1="1098.8" y1="427" x2="1098.8" y2="971.4" stroke="#000" stroke-width="6.9"/>
<line x1="1072" y1="968" x2="1889.5" y2="968" stroke="#000" stroke-width="6.9"/>
<text font-size="36.82" font-weight="bold" textLength="24.83" lengthAdjust="spacingAndGlyphs" x="1039.01" y="978.5">0</text>
<line x1="1072" y1="832.6" x2="1102.25" y2="832.6" stroke="#000" stroke-width="6.9"/>
<text font-size="36.82" font-weight="bold" textLength="24.83" lengthAdjust="spacingAndGlyphs" x="1038.34" y="843.5">5</text>
<line x1="1072" y1="697.6" x2="1102.25" y2="697.6" stroke="#000" stroke-width="6.9"/>
<text font-size="36.82" font-weight="bold" textLength="49.65" lengthAdjust="spacingAndGlyphs" x="1014.24" y="707.9">10</text>
<line x1="1072" y1="562.2" x2="1102.25" y2="562.2" stroke="#000" stroke-width="6.9"/>
<text font-size="36.82" font-weight="bold" textLength="49.65" lengthAdjust="spacingAndGlyphs" x="1013.57" y="574.5">15</text>
<line x1="1072" y1="421" x2="1102.25" y2="421" stroke="#000" stroke-width="6.9"/>
<text font-size="36.82" font-weight="bold" textLength="49.65" lengthAdjust="spacingAndGlyphs" x="1014.24" y="434.6">20</text>
<line x1="1163.7" y1="968" x2="1163.7" y2="989.6" stroke="#000" stroke-width="6.9"/>
<line x1="1295.5" y1="968" x2="1295.5" y2="989.6" stroke="#000" stroke-width="6.9"/>
<line x1="1427.7" y1="968" x2="1427.7" y2="989.6" stroke="#000" stroke-width="6.9"/>
<line x1="1559.7" y1="968" x2="1559.7" y2="989.6" stroke="#000" stroke-width="6.9"/>
<line x1="1692" y1="968" x2="1692" y2="989.6" stroke="#000" stroke-width="6.9"/>
<line x1="1823.7" y1="968" x2="1823.7" y2="989.6" stroke="#000" stroke-width="6.9"/>
<text font-size="34.84" font-weight="bold" textLength="82.13" lengthAdjust="spacingAndGlyphs" x="1134.66" y="1028">water</text>
<text font-size="34.84" font-weight="bold" textLength="49.67" lengthAdjust="spacingAndGlyphs" x="1273.2" y="1028">2%</text>
<text font-size="34.84" font-weight="bold" textLength="44.44" lengthAdjust="spacingAndGlyphs" x="1405.94" y="1028">4%</text>
<text font-size="34.84" font-weight="bold" textLength="45.92" lengthAdjust="spacingAndGlyphs" x="1538.39" y="1028">6%</text>
<text font-size="34.84" font-weight="bold" textLength="45.13" lengthAdjust="spacingAndGlyphs" x="1678.46" y="1028">8%</text>
<text font-size="34.84" font-weight="bold" textLength="62.71" lengthAdjust="spacingAndGlyphs" x="1803.12" y="1028">10%</text>
<text font-size="37.44" font-weight="bold" textLength="294.02" lengthAdjust="spacingAndGlyphs" transform="translate(1006.5,831.67) rotate(-90)">Avg licks/60s trial</text>
<line x1="1163.7" y1="953.7" x2="1163.7" y2="959.7" stroke="#c0c0c0" stroke-width="2"/>
<line x1="1150.2" y1="953.7" x2="1177.2" y2="953.7" stroke="#c0c0c0" stroke-width="2"/>
<line x1="1150.2" y1="959.7" x2="1177.2" y2="959.7" stroke="#c0c0c0" stroke-width="2"/>
<line x1="1295.5" y1="905.6" x2="1295.5" y2="925.6" stroke="#c0c0c0" stroke-width="2"/>
<line x1="1282" y1="905.6" x2="1309" y2="905.6" stroke="#c0c0c0" stroke-width="2"/>
<line x1="1282" y1="925.6" x2="1309" y2="925.6" stroke="#c0c0c0" stroke-width="2"/>
<line x1="1427.7" y1="871" x2="1427.7" y2="927" stroke="#c0c0c0" stroke-width="2"/>
<line x1="1414.2" y1="871" x2="1441.2" y2="871" stroke="#c0c0c0" stroke-width="2"/>
<line x1="1414.2" y1="927" x2="1441.2" y2="927" stroke="#c0c0c0" stroke-width="2"/>
<line x1="1559.7" y1="823" x2="1559.7" y2="879" stroke="#c0c0c0" stroke-width="2"/>
<line x1="1546.2" y1="823" x2="1573.2" y2="823" stroke="#c0c0c0" stroke-width="2"/>
<line x1="1546.2" y1="879" x2="1573.2" y2="879" stroke="#c0c0c0" stroke-width="2"/>
<line x1="1692" y1="786" x2="1692" y2="854" stroke="#c0c0c0" stroke-width="2"/>
<line x1="1678.5" y1="786" x2="1705.5" y2="786" stroke="#c0c0c0" stroke-width="2"/>
<line x1="1678.5" y1="854" x2="1705.5" y2="854" stroke="#c0c0c0" stroke-width="2"/>
<line x1="1823.7" y1="863.5" x2="1823.7" y2="924.5" stroke="#c0c0c0" stroke-width="2"/>
<line x1="1810.2" y1="863.5" x2="1837.2" y2="863.5" stroke="#c0c0c0" stroke-width="2"/>
<line x1="1810.2" y1="924.5" x2="1837.2" y2="924.5" stroke="#c0c0c0" stroke-width="2"/>
<path d="M1163.7 956.7 L1295.5 915.6 L1427.7 899 L1559.7 851 L1692 820 L1823.7 894" fill="none" stroke="#c0c0c0" stroke-width="2" stroke-dasharray="8 4"/>
<ellipse cx="1163.7" cy="956.7" rx="12.2" ry="10.8" fill="#fff" stroke="#c0c0c0" stroke-width="4.5"/>
<ellipse cx="1295.5" cy="915.6" rx="12.2" ry="10.8" fill="#fff" stroke="#c0c0c0" stroke-width="4.5"/>
<ellipse cx="1427.7" cy="899" rx="12.2" ry="10.8" fill="#fff" stroke="#c0c0c0" stroke-width="4.5"/>
<ellipse cx="1559.7" cy="851" rx="12.2" ry="10.8" fill="#fff" stroke="#c0c0c0" stroke-width="4.5"/>
<ellipse cx="1692" cy="820" rx="12.2" ry="10.8" fill="#fff" stroke="#c0c0c0" stroke-width="4.5"/>
<ellipse cx="1823.7" cy="894" rx="12.2" ry="10.8" fill="#fff" stroke="#c0c0c0" stroke-width="4.5"/>
<path d="M1163.7 956.7 L1295.5 915.6 L1427.7 899 L1559.7 851 L1692 820 L1823.7 894" fill="none" stroke="#c0c0c0" stroke-width="1.6" stroke-dasharray="8 4" opacity="0.9"/>
<line x1="1163.7" y1="949" x2="1163.7" y2="957" stroke="#4a5dab" stroke-width="2"/>
<line x1="1150.2" y1="949" x2="1177.2" y2="949" stroke="#4a5dab" stroke-width="2"/>
<line x1="1150.2" y1="957" x2="1177.2" y2="957" stroke="#4a5dab" stroke-width="2"/>
<line x1="1295.5" y1="935.8" x2="1295.5" y2="947.8" stroke="#4a5dab" stroke-width="2"/>
<line x1="1282" y1="935.8" x2="1309" y2="935.8" stroke="#4a5dab" stroke-width="2"/>
<line x1="1282" y1="947.8" x2="1309" y2="947.8" stroke="#4a5dab" stroke-width="2"/>
<line x1="1427.7" y1="867.7" x2="1427.7" y2="911.7" stroke="#4a5dab" stroke-width="2"/>
<line x1="1414.2" y1="867.7" x2="1441.2" y2="867.7" stroke="#4a5dab" stroke-width="2"/>
<line x1="1414.2" y1="911.7" x2="1441.2" y2="911.7" stroke="#4a5dab" stroke-width="2"/>
<line x1="1559.7" y1="797" x2="1559.7" y2="851" stroke="#4a5dab" stroke-width="2"/>
<line x1="1546.2" y1="797" x2="1573.2" y2="797" stroke="#4a5dab" stroke-width="2"/>
<line x1="1546.2" y1="851" x2="1573.2" y2="851" stroke="#4a5dab" stroke-width="2"/>
<line x1="1692" y1="733.4" x2="1692" y2="797.4" stroke="#4a5dab" stroke-width="2"/>
<line x1="1678.5" y1="733.4" x2="1705.5" y2="733.4" stroke="#4a5dab" stroke-width="2"/>
<line x1="1678.5" y1="797.4" x2="1705.5" y2="797.4" stroke="#4a5dab" stroke-width="2"/>
<line x1="1823.7" y1="639.5" x2="1823.7" y2="733.5" stroke="#4a5dab" stroke-width="2"/>
<line x1="1810.2" y1="639.5" x2="1837.2" y2="639.5" stroke="#4a5dab" stroke-width="2"/>
<line x1="1810.2" y1="733.5" x2="1837.2" y2="733.5" stroke="#4a5dab" stroke-width="2"/>
<path d="M1163.7 953 L1295.5 941.8 L1427.7 889.7 L1559.7 824 L1692 765.4 L1823.7 686.5" fill="none" stroke="#2f419e" stroke-width="2"/>
<rect x="1151.2" y="942.5" width="25" height="21" fill="#4a5dab"/>
<rect x="1283" y="931.3" width="25" height="21" fill="#4a5dab"/>
<rect x="1415.2" y="879.2" width="25" height="21" fill="#4a5dab"/>
<rect x="1547.2" y="813.5" width="25" height="21" fill="#4a5dab"/>
<rect x="1679.5" y="754.9" width="25" height="21" fill="#4a5dab"/>
<rect x="1811.2" y="676" width="25" height="21" fill="#4a5dab"/>
<line x1="1163.7" y1="940.8" x2="1163.7" y2="948.8" stroke="#8fe1f6" stroke-width="2"/>
<line x1="1150.2" y1="940.8" x2="1177.2" y2="940.8" stroke="#8fe1f6" stroke-width="2"/>
<line x1="1150.2" y1="948.8" x2="1177.2" y2="948.8" stroke="#8fe1f6" stroke-width="2"/>
<line x1="1295.5" y1="935" x2="1295.5" y2="951" stroke="#8fe1f6" stroke-width="2"/>
<line x1="1282" y1="935" x2="1309" y2="935" stroke="#8fe1f6" stroke-width="2"/>
<line x1="1282" y1="951" x2="1309" y2="951" stroke="#8fe1f6" stroke-width="2"/>
<line x1="1427.7" y1="876.6" x2="1427.7" y2="932.6" stroke="#8fe1f6" stroke-width="2"/>
<line x1="1414.2" y1="876.6" x2="1441.2" y2="876.6" stroke="#8fe1f6" stroke-width="2"/>
<line x1="1414.2" y1="932.6" x2="1441.2" y2="932.6" stroke="#8fe1f6" stroke-width="2"/>
<line x1="1559.7" y1="818.6" x2="1559.7" y2="868.6" stroke="#8fe1f6" stroke-width="2"/>
<line x1="1546.2" y1="818.6" x2="1573.2" y2="818.6" stroke="#8fe1f6" stroke-width="2"/>
<line x1="1546.2" y1="868.6" x2="1573.2" y2="868.6" stroke="#8fe1f6" stroke-width="2"/>
<line x1="1692" y1="747.6" x2="1692" y2="817.6" stroke="#8fe1f6" stroke-width="2"/>
<line x1="1678.5" y1="747.6" x2="1705.5" y2="747.6" stroke="#8fe1f6" stroke-width="2"/>
<line x1="1678.5" y1="817.6" x2="1705.5" y2="817.6" stroke="#8fe1f6" stroke-width="2"/>
<line x1="1823.7" y1="732.5" x2="1823.7" y2="812.5" stroke="#8fe1f6" stroke-width="2"/>
<line x1="1810.2" y1="732.5" x2="1837.2" y2="732.5" stroke="#8fe1f6" stroke-width="2"/>
<line x1="1810.2" y1="812.5" x2="1837.2" y2="812.5" stroke="#8fe1f6" stroke-width="2"/>
<path d="M1163.7 944.8 L1295.5 943 L1427.7 904.6 L1559.7 843.6 L1692 782.6 L1823.7 772.5" fill="none" stroke="#8fe1f6" stroke-width="2"/>
<ellipse cx="1163.7" cy="944.8" rx="12.6" ry="11.2" fill="#8fe1f6"/>
<ellipse cx="1295.5" cy="943" rx="12.6" ry="11.2" fill="#8fe1f6"/>
<ellipse cx="1427.7" cy="904.6" rx="12.6" ry="11.2" fill="#8fe1f6"/>
<ellipse cx="1559.7" cy="843.6" rx="12.6" ry="11.2" fill="#8fe1f6"/>
<ellipse cx="1692" cy="782.6" rx="12.6" ry="11.2" fill="#8fe1f6"/>
<ellipse cx="1823.7" cy="772.5" rx="12.6" ry="11.2" fill="#8fe1f6"/>
<line x1="1163.7" y1="936.8" x2="1163.7" y2="946.8" stroke="#8fe1f6" stroke-width="2"/>
<line x1="1150.2" y1="936.8" x2="1177.2" y2="936.8" stroke="#8fe1f6" stroke-width="2"/>
<line x1="1150.2" y1="946.8" x2="1177.2" y2="946.8" stroke="#8fe1f6" stroke-width="2"/>
<line x1="1295.5" y1="880.7" x2="1295.5" y2="910.7" stroke="#8fe1f6" stroke-width="2"/>
<line x1="1282" y1="880.7" x2="1309" y2="880.7" stroke="#8fe1f6" stroke-width="2"/>
<line x1="1282" y1="910.7" x2="1309" y2="910.7" stroke="#8fe1f6" stroke-width="2"/>
<line x1="1427.7" y1="733.75" x2="1427.7" y2="823.75" stroke="#8fe1f6" stroke-width="2"/>
<line x1="1414.2" y1="733.75" x2="1441.2" y2="733.75" stroke="#8fe1f6" stroke-width="2"/>
<line x1="1414.2" y1="823.75" x2="1441.2" y2="823.75" stroke="#8fe1f6" stroke-width="2"/>
<line x1="1559.7" y1="838.9" x2="1559.7" y2="898.9" stroke="#8fe1f6" stroke-width="2"/>
<line x1="1546.2" y1="838.9" x2="1573.2" y2="838.9" stroke="#8fe1f6" stroke-width="2"/>
<line x1="1546.2" y1="898.9" x2="1573.2" y2="898.9" stroke="#8fe1f6" stroke-width="2"/>
<line x1="1692" y1="680.3" x2="1692" y2="740.3" stroke="#8fe1f6" stroke-width="2"/>
<line x1="1678.5" y1="680.3" x2="1705.5" y2="680.3" stroke="#8fe1f6" stroke-width="2"/>
<line x1="1678.5" y1="740.3" x2="1705.5" y2="740.3" stroke="#8fe1f6" stroke-width="2"/>
<line x1="1823.7" y1="744" x2="1823.7" y2="824" stroke="#8fe1f6" stroke-width="2"/>
<line x1="1810.2" y1="744" x2="1837.2" y2="744" stroke="#8fe1f6" stroke-width="2"/>
<line x1="1810.2" y1="824" x2="1837.2" y2="824" stroke="#8fe1f6" stroke-width="2"/>
<path d="M1163.7 941.8 L1295.5 895.7 L1427.7 778.75 L1559.7 868.9 L1692 710.3 L1823.7 784" fill="none" stroke="#8fe1f6" stroke-width="2" stroke-dasharray="8 4"/>
<ellipse cx="1163.7" cy="941.8" rx="12.2" ry="10.8" fill="#fff" stroke="#8fe1f6" stroke-width="4.5"/>
<ellipse cx="1295.5" cy="895.7" rx="12.2" ry="10.8" fill="#fff" stroke="#8fe1f6" stroke-width="4.5"/>
<ellipse cx="1427.7" cy="778.75" rx="12.2" ry="10.8" fill="#fff" stroke="#8fe1f6" stroke-width="4.5"/>
<ellipse cx="1559.7" cy="868.9" rx="12.2" ry="10.8" fill="#fff" stroke="#8fe1f6" stroke-width="4.5"/>
<ellipse cx="1692" cy="710.3" rx="12.2" ry="10.8" fill="#fff" stroke="#8fe1f6" stroke-width="4.5"/>
<ellipse cx="1823.7" cy="784" rx="12.2" ry="10.8" fill="#fff" stroke="#8fe1f6" stroke-width="4.5"/>
<path d="M1163.7 941.8 L1295.5 895.7 L1427.7 778.75 L1559.7 868.9 L1692 710.3 L1823.7 784" fill="none" stroke="#8fe1f6" stroke-width="1.6" stroke-dasharray="8 4" opacity="0.9"/>
<line x1="1163.7" y1="949.2" x2="1163.7" y2="955.2" stroke="#000000" stroke-width="2"/>
<line x1="1150.2" y1="949.2" x2="1177.2" y2="949.2" stroke="#000000" stroke-width="2"/>
<line x1="1150.2" y1="955.2" x2="1177.2" y2="955.2" stroke="#000000" stroke-width="2"/>
<line x1="1295.5" y1="940.4" x2="1295.5" y2="950.4" stroke="#000000" stroke-width="2"/>
<line x1="1282" y1="940.4" x2="1309" y2="940.4" stroke="#000000" stroke-width="2"/>
<line x1="1282" y1="950.4" x2="1309" y2="950.4" stroke="#000000" stroke-width="2"/>
<line x1="1427.7" y1="925" x2="1427.7" y2="945" stroke="#000000" stroke-width="2"/>
<line x1="1414.2" y1="925" x2="1441.2" y2="925" stroke="#000000" stroke-width="2"/>
<line x1="1414.2" y1="945" x2="1441.2" y2="945" stroke="#000000" stroke-width="2"/>
<line x1="1559.7" y1="890.5" x2="1559.7" y2="930.5" stroke="#000000" stroke-width="2"/>
<line x1="1546.2" y1="890.5" x2="1573.2" y2="890.5" stroke="#000000" stroke-width="2"/>
<line x1="1546.2" y1="930.5" x2="1573.2" y2="930.5" stroke="#000000" stroke-width="2"/>
<line x1="1692" y1="851.5" x2="1692" y2="902.9" stroke="#000000" stroke-width="2"/>
<line x1="1678.5" y1="851.5" x2="1705.5" y2="851.5" stroke="#000000" stroke-width="2"/>
<line x1="1678.5" y1="902.9" x2="1705.5" y2="902.9" stroke="#000000" stroke-width="2"/>
<line x1="1823.7" y1="793" x2="1823.7" y2="875" stroke="#000000" stroke-width="2"/>
<line x1="1810.2" y1="793" x2="1837.2" y2="793" stroke="#000000" stroke-width="2"/>
<line x1="1810.2" y1="875" x2="1837.2" y2="875" stroke="#000000" stroke-width="2"/>
<path d="M1163.7 952.2 L1295.5 945.4 L1427.7 935 L1559.7 910.5 L1692 877.2 L1823.7 834" fill="none" stroke="#000000" stroke-width="2.4"/>
<rect x="1151.2" y="941.7" width="25" height="21" fill="#000000"/>
<rect x="1283" y="934.9" width="25" height="21" fill="#000000"/>
<rect x="1415.2" y="924.5" width="25" height="21" fill="#000000"/>
<rect x="1547.2" y="900" width="25" height="21" fill="#000000"/>
<rect x="1679.5" y="866.7" width="25" height="21" fill="#000000"/>
<rect x="1811.2" y="823.5" width="25" height="21" fill="#000000"/>
<line x1="1163.7" y1="958" x2="1163.7" y2="964" stroke="#a9a9a9" stroke-width="2"/>
<line x1="1150.2" y1="958" x2="1177.2" y2="958" stroke="#a9a9a9" stroke-width="2"/>
<line x1="1150.2" y1="964" x2="1177.2" y2="964" stroke="#a9a9a9" stroke-width="2"/>
<line x1="1295.5" y1="921.9" x2="1295.5" y2="937.9" stroke="#a9a9a9" stroke-width="2"/>
<line x1="1282" y1="921.9" x2="1309" y2="921.9" stroke="#a9a9a9" stroke-width="2"/>
<line x1="1282" y1="937.9" x2="1309" y2="937.9" stroke="#a9a9a9" stroke-width="2"/>
<line x1="1427.7" y1="866.5" x2="1427.7" y2="926.5" stroke="#a9a9a9" stroke-width="2"/>
<line x1="1414.2" y1="866.5" x2="1441.2" y2="866.5" stroke="#a9a9a9" stroke-width="2"/>
<line x1="1414.2" y1="926.5" x2="1441.2" y2="926.5" stroke="#a9a9a9" stroke-width="2"/>
<line x1="1559.7" y1="857.3" x2="1559.7" y2="907.3" stroke="#a9a9a9" stroke-width="2"/>
<line x1="1546.2" y1="857.3" x2="1573.2" y2="857.3" stroke="#a9a9a9" stroke-width="2"/>
<line x1="1546.2" y1="907.3" x2="1573.2" y2="907.3" stroke="#a9a9a9" stroke-width="2"/>
<line x1="1692" y1="746" x2="1692" y2="854" stroke="#a9a9a9" stroke-width="2"/>
<line x1="1678.5" y1="746" x2="1705.5" y2="746" stroke="#a9a9a9" stroke-width="2"/>
<line x1="1678.5" y1="854" x2="1705.5" y2="854" stroke="#a9a9a9" stroke-width="2"/>
<line x1="1823.7" y1="723.6" x2="1823.7" y2="853.6" stroke="#a9a9a9" stroke-width="2"/>
<line x1="1810.2" y1="723.6" x2="1837.2" y2="723.6" stroke="#a9a9a9" stroke-width="2"/>
<line x1="1810.2" y1="853.6" x2="1837.2" y2="853.6" stroke="#a9a9a9" stroke-width="2"/>
<path d="M1163.7 961 L1295.5 929.9 L1427.7 896.5 L1559.7 882.3 L1692 800 L1823.7 788.6" fill="none" stroke="#a9a9a9" stroke-width="2.4"/>
<ellipse cx="1163.7" cy="961" rx="12.6" ry="11.2" fill="#a9a9a9"/>
<ellipse cx="1295.5" cy="929.9" rx="12.6" ry="11.2" fill="#a9a9a9"/>
<ellipse cx="1427.7" cy="896.5" rx="12.6" ry="11.2" fill="#a9a9a9"/>
<ellipse cx="1559.7" cy="882.3" rx="12.6" ry="11.2" fill="#a9a9a9"/>
<ellipse cx="1692" cy="800" rx="12.6" ry="11.2" fill="#a9a9a9"/>
<ellipse cx="1823.7" cy="788.6" rx="12.6" ry="11.2" fill="#a9a9a9"/>
<text font-size="36.4" font-weight="bold" textLength="50" lengthAdjust="spacingAndGlyphs" x="1123.11" y="423">G.</text>
<text font-size="24.65" font-weight="bold" textLength="388.71" lengthAdjust="spacingAndGlyphs" x="1181.3" y="418.4">Average licks at 10% sucrose</text>
<rect x="1237.8" y="674.5" width="32.7" height="26.5" fill="#c0c0c0"/>
<rect x="1243.8" y="680.5" width="20.7" height="20.5" fill="url(#psg)"/>
<rect x="1283.3" y="635.8" width="31.9" height="65.2" fill="#c0c0c0"/>
<rect x="1289.3" y="641.8" width="19.9" height="59.2" fill="#fff"/>
<rect x="1328.6" y="652.7" width="32.1" height="48.3" fill="#000000"/>
<rect x="1334.6" y="658.7" width="20.1" height="42.3" fill="#7f8180"/>
<rect x="1403" y="634.3" width="32.7" height="66.7" fill="#8fe1f6"/>
<rect x="1409" y="640.3" width="20.7" height="60.7" fill="url(#psb)"/>
<rect x="1448.5" y="629.8" width="31.9" height="71.2" fill="#8fe1f6"/>
<rect x="1454.5" y="635.8" width="19.9" height="65.2" fill="#fff"/>
<rect x="1493.8" y="598" width="31.8" height="103" fill="#4a5dab"/>
<rect x="1499.8" y="604" width="19.8" height="97" fill="#8fe1f6"/>
<line x1="1254" y1="664" x2="1254" y2="685" stroke="#c0c0c0" stroke-width="1.8"/>
<line x1="1246" y1="664" x2="1262" y2="664" stroke="#c0c0c0" stroke-width="1.8"/>
<line x1="1246" y1="685" x2="1262" y2="685" stroke="#c0c0c0" stroke-width="1.8"/>
<line x1="1299.4" y1="613.5" x2="1299.4" y2="660.3" stroke="#c0c0c0" stroke-width="1.8"/>
<line x1="1291.4" y1="613.5" x2="1307.4" y2="613.5" stroke="#c0c0c0" stroke-width="1.8"/>
<line x1="1291.4" y1="660.3" x2="1307.4" y2="660.3" stroke="#c0c0c0" stroke-width="1.8"/>
<line x1="1344.5" y1="638.7" x2="1344.5" y2="666.7" stroke="#000000" stroke-width="2"/>
<line x1="1336.5" y1="638.7" x2="1352.5" y2="638.7" stroke="#000000" stroke-width="2"/>
<line x1="1336.5" y1="666.7" x2="1352.5" y2="666.7" stroke="#000000" stroke-width="2"/>
<line x1="1419.3" y1="613.5" x2="1419.3" y2="655.1" stroke="#8fe1f6" stroke-width="2"/>
<line x1="1411.3" y1="613.5" x2="1427.3" y2="613.5" stroke="#8fe1f6" stroke-width="2"/>
<line x1="1411.3" y1="655.1" x2="1427.3" y2="655.1" stroke="#8fe1f6" stroke-width="2"/>
<line x1="1464.6" y1="616.4" x2="1464.6" y2="643.2" stroke="#8fe1f6" stroke-width="2"/>
<line x1="1456.6" y1="616.4" x2="1472.6" y2="616.4" stroke="#8fe1f6" stroke-width="2"/>
<line x1="1456.6" y1="643.2" x2="1472.6" y2="643.2" stroke="#8fe1f6" stroke-width="2"/>
<line x1="1509.5" y1="582.2" x2="1509.5" y2="613.8" stroke="#4a5dab" stroke-width="2"/>
<line x1="1501.5" y1="582.2" x2="1517.5" y2="582.2" stroke="#4a5dab" stroke-width="2"/>
<line x1="1501.5" y1="613.8" x2="1517.5" y2="613.8" stroke="#4a5dab" stroke-width="2"/>
<line x1="1223.8" y1="452.6" x2="1223.8" y2="703.4" stroke="#000" stroke-width="4.8"/>
<line x1="1211" y1="701" x2="1538.5" y2="701" stroke="#000" stroke-width="4.8"/>
<line x1="1210.3" y1="701" x2="1223.8" y2="701" stroke="#000" stroke-width="4.8"/>
<text font-size="19.24" font-weight="bold" textLength="13.14" lengthAdjust="spacingAndGlyphs" x="1193.24" y="707.66">0</text>
<line x1="1210.3" y1="651.8" x2="1223.8" y2="651.8" stroke="#000" stroke-width="4.8"/>
<text font-size="19.24" font-weight="bold" textLength="13.14" lengthAdjust="spacingAndGlyphs" x="1192.88" y="658.46">5</text>
<line x1="1210.3" y1="602.6" x2="1223.8" y2="602.6" stroke="#000" stroke-width="4.8"/>
<text font-size="19.24" font-weight="bold" textLength="26.27" lengthAdjust="spacingAndGlyphs" x="1180.13" y="609.26">10</text>
<line x1="1210.3" y1="553.4" x2="1223.8" y2="553.4" stroke="#000" stroke-width="4.8"/>
<text font-size="19.24" font-weight="bold" textLength="26.27" lengthAdjust="spacingAndGlyphs" x="1179.77" y="560.06">15</text>
<line x1="1210.3" y1="504.2" x2="1223.8" y2="504.2" stroke="#000" stroke-width="4.8"/>
<text font-size="19.24" font-weight="bold" textLength="26.27" lengthAdjust="spacingAndGlyphs" x="1180.13" y="510.86">20</text>
<line x1="1210.3" y1="455" x2="1223.8" y2="455" stroke="#000" stroke-width="4.8"/>
<text font-size="19.24" font-weight="bold" textLength="26.27" lengthAdjust="spacingAndGlyphs" x="1179.77" y="461.66">25</text>
<line x1="1298" y1="701" x2="1298" y2="713" stroke="#000" stroke-width="4.8"/>
<line x1="1463.6" y1="701" x2="1463.6" y2="713" stroke="#000" stroke-width="4.8"/>
<circle cx="1249.7" cy="632" r="6.2" fill="#c0c0c0"/>
<circle cx="1257.7" cy="628" r="6.2" fill="#c0c0c0"/>
<circle cx="1254" cy="656.6" r="6.2" fill="#c0c0c0"/>
<circle cx="1245" cy="688" r="6.2" fill="#c0c0c0"/>
<circle cx="1254" cy="685" r="6.2" fill="#c0c0c0"/>
<circle cx="1263" cy="688" r="6.2" fill="#c0c0c0"/>
<circle cx="1243.7" cy="701" r="6.2" fill="#c0c0c0"/>
<circle cx="1257" cy="701" r="6.2" fill="#c0c0c0"/>
<circle cx="1266" cy="698" r="6.2" fill="#c0c0c0"/>
<ellipse cx="1299.4" cy="503.3" rx="4.6" ry="3.8" fill="#c0c0c0"/>
<ellipse cx="1299.4" cy="528.6" rx="4.6" ry="3.8" fill="#c0c0c0"/>
<ellipse cx="1299.4" cy="632" rx="4.6" ry="3.8" fill="#c0c0c0"/>
<ellipse cx="1290" cy="662.5" rx="4.6" ry="3.8" fill="#c0c0c0"/>
<ellipse cx="1308" cy="668.5" rx="4.6" ry="3.8" fill="#c0c0c0"/>
<ellipse cx="1290" cy="683" rx="4.6" ry="3.8" fill="#c0c0c0"/>
<ellipse cx="1308" cy="683" rx="4.6" ry="3.8" fill="#c0c0c0"/>
<ellipse cx="1299.4" cy="695" rx="4.6" ry="3.8" fill="#c0c0c0"/>
<rect x="1339.8" y="573.7" width="9" height="8" fill="#000000"/>
<rect x="1339.8" y="601" width="9" height="8" fill="#000000"/>
<rect x="1339.8" y="611" width="9" height="8" fill="#000000"/>
<rect x="1339.8" y="645" width="9" height="8" fill="#000000"/>
<rect x="1336" y="660" width="9" height="8" fill="#000000"/>
<rect x="1345" y="660" width="9" height="8" fill="#000000"/>
<rect x="1339.8" y="688" width="9" height="8" fill="#000000"/>
<rect x="1339.8" y="697" width="9" height="8" fill="#000000"/>
<ellipse cx="1419.3" cy="537.6" rx="4.7" ry="3.9" fill="none" stroke="#8fe1f6" stroke-width="4"/>
<ellipse cx="1419.3" cy="550" rx="4.7" ry="3.9" fill="none" stroke="#8fe1f6" stroke-width="4"/>
<ellipse cx="1419.3" cy="579.8" rx="4.7" ry="3.9" fill="none" stroke="#8fe1f6" stroke-width="4"/>
<ellipse cx="1419.3" cy="609" rx="4.7" ry="3.9" fill="none" stroke="#8fe1f6" stroke-width="4"/>
<ellipse cx="1419.3" cy="667" rx="4.7" ry="3.9" fill="none" stroke="#8fe1f6" stroke-width="4"/>
<ellipse cx="1419.3" cy="682" rx="4.7" ry="3.9" fill="none" stroke="#8fe1f6" stroke-width="4"/>
<ellipse cx="1409" cy="694" rx="4.7" ry="3.9" fill="none" stroke="#8fe1f6" stroke-width="4"/>
<ellipse cx="1429.8" cy="697" rx="4.7" ry="3.9" fill="none" stroke="#8fe1f6" stroke-width="4"/>
<ellipse cx="1409" cy="701" rx="4.7" ry="3.9" fill="none" stroke="#8fe1f6" stroke-width="4"/>
<ellipse cx="1464.6" cy="526" rx="4.6" ry="3.8" fill="#8fe1f6"/>
<ellipse cx="1464.6" cy="547.4" rx="4.6" ry="3.8" fill="#8fe1f6"/>
<ellipse cx="1464.6" cy="578.6" rx="4.6" ry="3.8" fill="#8fe1f6"/>
<ellipse cx="1464.6" cy="616.4" rx="4.6" ry="3.8" fill="#8fe1f6"/>
<ellipse cx="1453.6" cy="625.4" rx="4.6" ry="3.8" fill="#8fe1f6"/>
<ellipse cx="1475" cy="627" rx="4.6" ry="3.8" fill="#8fe1f6"/>
<ellipse cx="1464.6" cy="638.8" rx="4.6" ry="3.8" fill="#8fe1f6"/>
<ellipse cx="1464.6" cy="647.7" rx="4.6" ry="3.8" fill="#8fe1f6"/>
<ellipse cx="1464.6" cy="659.6" rx="4.6" ry="3.8" fill="#8fe1f6"/>
<ellipse cx="1455" cy="671.5" rx="4.6" ry="3.8" fill="#8fe1f6"/>
<ellipse cx="1474.4" cy="671.5" rx="4.6" ry="3.8" fill="#8fe1f6"/>
<ellipse cx="1464.6" cy="691.4" rx="4.6" ry="3.8" fill="#8fe1f6"/>
<ellipse cx="1464.6" cy="702" rx="4.6" ry="3.8" fill="#8fe1f6"/>
<rect x="1504.75" y="472.75" width="9.5" height="7.5" fill="#4a5dab"/>
<rect x="1504.75" y="512.95" width="9.5" height="7.5" fill="#4a5dab"/>
<rect x="1504.75" y="549.25" width="9.5" height="7.5" fill="#4a5dab"/>
<rect x="1514.25" y="584.25" width="9.5" height="7.5" fill="#4a5dab"/>
<rect x="1494.95" y="588.85" width="9.5" height="7.5" fill="#4a5dab"/>
<rect x="1504.75" y="621.65" width="9.5" height="7.5" fill="#4a5dab"/>
<rect x="1504.75" y="628.25" width="9.5" height="7.5" fill="#4a5dab"/>
<rect x="1504.75" y="671.65" width="9.5" height="7.5" fill="#4a5dab"/>
<text font-size="17.47" font-weight="bold" textLength="59.69" lengthAdjust="spacingAndGlyphs" x="1271.4" y="732.6">CTRL</text>
<text font-size="17.47" font-weight="bold" textLength="30.43" lengthAdjust="spacingAndGlyphs" x="1451.28" y="732.6">KO</text>
<text font-size="21.32" textLength="179.63" lengthAdjust="spacingAndGlyphs" transform="translate(1168.5,670) rotate(-90)" stroke="#000" stroke-width="0.5">Average Lick rate/60s</text>
<circle cx="1242.6" cy="439.8" r="5.6" fill="#fff" stroke="#8fe1f6" stroke-width="2.2"/>
<circle cx="1242.6" cy="439.8" r="4" fill="none" stroke="#aaa" stroke-width="1.2"/>
<text font-size="16.43" textLength="69.26" lengthAdjust="spacingAndGlyphs" x="1252.69" y="445">No stress</text>
<g transform="translate(1242.6,458.6) rotate(45)"><path d="M-6.2 0 A6.2 6.2 0 0 1 6.2 0 Z" fill="#8fe1f6"/><path d="M-6.2 0 A6.2 6.2 0 0 0 6.2 0 Z" fill="#d0d3d2"/></g>
<text font-size="16.43" textLength="45.99" lengthAdjust="spacingAndGlyphs" x="1252.26" y="464">Saline</text>
<polygon points="1238.05,471.75 1248.55,471.75 1248.55,482.25" fill="#4a5dab"/>
<polygon points="1238.05,471.75 1238.05,482.25 1248.55,482.25" fill="#111"/>
<text font-size="16.43" textLength="74.02" lengthAdjust="spacingAndGlyphs" x="1252.68" y="481.8">Psilocybin</text>
<text font-size="43.68" font-weight="bold" textLength="47.11" lengthAdjust="spacingAndGlyphs" x="90.69" y="1119.5">D.</text>
<text font-size="43.16" font-weight="bold" textLength="569.94" lengthAdjust="spacingAndGlyphs" x="223.8" y="1118">Novelty Suppressed Feeding</text>
<text font-size="43.16" font-weight="bold" textLength="173.15" lengthAdjust="spacingAndGlyphs" x="422.19" y="1167.7">Females</text>
<path d="M157.7 1662 H719.3 V1641 H827 V1641" fill="none" stroke="#a6a6a6" stroke-width="2" stroke-linejoin="miter"/>
<path d="M157.7 1662 H498.5 V1619.3 H827 V1619.3" fill="none" stroke="#c0c0c0" stroke-width="2" stroke-dasharray="9 4" stroke-linejoin="miter"/>
<path d="M157.7 1662 H241.7 V1634.8 H396.4 V1607.4 H402.7 V1578.8 H619.6 V1550.7 H682 V1522.4 H827 V1522.4" fill="none" stroke="#ee3a9f" stroke-width="2.2" stroke-linejoin="miter"/>
<path d="M157.7 1662 H344.6 V1626.4 H447.3 V1591.6 H494.6 V1555.8 H501.2 V1520 H601.8 V1485 H605.7 V1448.6 H709 V1413 H782.4 V1377.2 H827 V1377.2" fill="none" stroke="#e38dc3" stroke-width="2.2" stroke-linejoin="miter"/>
<path d="M157.7 1662 H383 V1623.4 H492.3 V1584 H561.6 V1544.8 H592.9 V1505.8 H695.5 V1466.5 H720 V1427.2 H827 V1427.2" fill="none" stroke="#e38dc3" stroke-width="2" stroke-dasharray="9 4" stroke-linejoin="miter"/>
<path d="M157.7 1662 H262 V1638.3 H273.8 V1613.6 H547.6 V1589.4 H570.5 V1565.3 H642 V1540.9 H655.4 V1516.2 H746.7 V1467 H787.2 V1442 H827 V1442" fill="none" stroke="#000000" stroke-width="2.6" stroke-linejoin="miter"/>
<rect x="825.2" y="1633" width="3.6" height="8" fill="#000"/>
<rect x="825.2" y="1611.3" width="3.6" height="8" fill="#000"/>
<rect x="825.2" y="1514.4" width="3.6" height="8" fill="#000"/>
<rect x="825.2" y="1369.2" width="3.6" height="8" fill="#000"/>
<rect x="825.2" y="1419.2" width="3.6" height="8" fill="#000"/>
<rect x="825.2" y="1434" width="3.6" height="8" fill="#000"/>
<line x1="157.7" y1="1274.7" x2="157.7" y2="1664.3" stroke="#000" stroke-width="4.6"/>
<line x1="138.4" y1="1662" x2="828.8" y2="1662" stroke="#000" stroke-width="4.6"/>
<line x1="137.2" y1="1275.7" x2="160" y2="1275.7" stroke="#000" stroke-width="4.7"/>
<text font-size="34.11" font-weight="bold" textLength="56.83" lengthAdjust="spacingAndGlyphs" x="73.66" y="1287.1">100</text>
<line x1="137.2" y1="1468.8" x2="160" y2="1468.8" stroke="#000" stroke-width="4.7"/>
<text font-size="34.11" font-weight="bold" textLength="37.88" lengthAdjust="spacingAndGlyphs" x="92.56" y="1480.2">50</text>
<line x1="137.2" y1="1662" x2="160" y2="1662" stroke="#000" stroke-width="4.7"/>
<text font-size="34.11" font-weight="bold" textLength="18.94" lengthAdjust="spacingAndGlyphs" x="111.46" y="1673.4">0</text>
<line x1="157.7" y1="1662" x2="157.7" y2="1681.3" stroke="#000" stroke-width="4.6"/>
<text font-size="33.28" font-weight="bold" textLength="18.97" lengthAdjust="spacingAndGlyphs" x="147.44" y="1717.5">0</text>
<line x1="269.4" y1="1662" x2="269.4" y2="1681.3" stroke="#000" stroke-width="4.6"/>
<text font-size="33.28" font-weight="bold" textLength="37.97" lengthAdjust="spacingAndGlyphs" x="250.48" y="1717.5">50</text>
<line x1="381.1" y1="1662" x2="381.1" y2="1681.3" stroke="#000" stroke-width="4.6"/>
<text font-size="33.28" font-weight="bold" textLength="57.25" lengthAdjust="spacingAndGlyphs" x="351.94" y="1717.5">100</text>
<line x1="492.8" y1="1662" x2="492.8" y2="1681.3" stroke="#000" stroke-width="4.6"/>
<text font-size="33.28" font-weight="bold" textLength="58.74" lengthAdjust="spacingAndGlyphs" x="462.79" y="1717.5">150</text>
<line x1="604.5" y1="1662" x2="604.5" y2="1681.3" stroke="#000" stroke-width="4.6"/>
<text font-size="33.28" font-weight="bold" textLength="57.19" lengthAdjust="spacingAndGlyphs" x="575.3" y="1717.5">200</text>
<line x1="716.2" y1="1662" x2="716.2" y2="1681.3" stroke="#000" stroke-width="4.6"/>
<text font-size="33.28" font-weight="bold" textLength="57.3" lengthAdjust="spacingAndGlyphs" x="686.8" y="1717.5">250</text>
<line x1="827.9" y1="1662" x2="827.9" y2="1681.3" stroke="#000" stroke-width="4.6"/>
<text font-size="33.28" font-weight="bold" textLength="56.83" lengthAdjust="spacingAndGlyphs" x="798.85" y="1717.5">300</text>
<text font-size="34.32" font-weight="bold" textLength="289.53" lengthAdjust="spacingAndGlyphs" x="318.21" y="1759.8">Latency to eat (s)</text>
<text font-size="34.32" font-weight="bold" textLength="291.2" lengthAdjust="spacingAndGlyphs" transform="translate(67.9,1607.06) rotate(-90)">Percentage of mice</text>
<rect x="267" y="1223.75" width="28" height="170.55" fill="#c0c0c0"/>
<rect x="273" y="1229.75" width="16" height="164.55" fill="url(#psg)"/>
<rect x="304.8" y="1214" width="27.6" height="180.3" fill="#c0c0c0"/>
<rect x="310.8" y="1220" width="15.6" height="174.3" fill="#fff"/>
<rect x="343.5" y="1250.8" width="27.3" height="143.5" fill="#000000"/>
<rect x="349.5" y="1256.8" width="15.3" height="137.5" fill="#7f8180"/>
<rect x="406.5" y="1254.4" width="28" height="139.9" fill="#e38dc3"/>
<rect x="412.5" y="1260.4" width="16" height="133.9" fill="url(#psp)"/>
<rect x="444.6" y="1266.3" width="27.7" height="128" fill="#e38dc3"/>
<rect x="450.6" y="1272.3" width="15.7" height="122" fill="#fff"/>
<rect x="482.7" y="1248.5" width="28" height="145.8" fill="#ee3a9f"/>
<rect x="488.7" y="1254.5" width="16" height="139.8" fill="#e38dc3"/>
<line x1="281" y1="1220.75" x2="281" y2="1229.75" stroke="#c0c0c0" stroke-width="1.6"/>
<line x1="275" y1="1220.75" x2="287" y2="1220.75" stroke="#c0c0c0" stroke-width="1.6"/>
<line x1="275" y1="1229.75" x2="287" y2="1229.75" stroke="#c0c0c0" stroke-width="1.6"/>
<line x1="357.2" y1="1239.5" x2="357.2" y2="1262.1" stroke="#000000" stroke-width="2"/>
<line x1="350.2" y1="1239.5" x2="364.2" y2="1239.5" stroke="#000000" stroke-width="2"/>
<line x1="350.2" y1="1262.1" x2="364.2" y2="1262.1" stroke="#000000" stroke-width="2"/>
<line x1="420.5" y1="1244.4" x2="420.5" y2="1264.4" stroke="#e38dc3" stroke-width="1.8"/>
<line x1="413.5" y1="1244.4" x2="427.5" y2="1244.4" stroke="#e38dc3" stroke-width="1.8"/>
<line x1="413.5" y1="1264.4" x2="427.5" y2="1264.4" stroke="#e38dc3" stroke-width="1.8"/>
<line x1="458.5" y1="1253" x2="458.5" y2="1280.8" stroke="#e38dc3" stroke-width="1.8"/>
<line x1="451.5" y1="1253" x2="465.5" y2="1253" stroke="#e38dc3" stroke-width="1.8"/>
<line x1="451.5" y1="1280.8" x2="465.5" y2="1280.8" stroke="#e38dc3" stroke-width="1.8"/>
<line x1="496.7" y1="1234.5" x2="496.7" y2="1260.5" stroke="#ee3a9f" stroke-width="2"/>
<line x1="489.7" y1="1234.5" x2="503.7" y2="1234.5" stroke="#ee3a9f" stroke-width="2"/>
<line x1="489.7" y1="1260.5" x2="503.7" y2="1260.5" stroke="#ee3a9f" stroke-width="2"/>
<line x1="256.5" y1="1212.9" x2="256.5" y2="1396.4" stroke="#000" stroke-width="4.2"/>
<line x1="244.6" y1="1394.3" x2="521.4" y2="1394.3" stroke="#000" stroke-width="4.2"/>
<line x1="244.5" y1="1394.3" x2="256.5" y2="1394.3" stroke="#000" stroke-width="4.2"/>
<text font-size="19.34" font-weight="bold" textLength="11.4" lengthAdjust="spacingAndGlyphs" x="229.04" y="1401">0</text>
<line x1="244.5" y1="1334.53" x2="256.5" y2="1334.53" stroke="#000" stroke-width="4.2"/>
<text font-size="19.34" font-weight="bold" textLength="34.2" lengthAdjust="spacingAndGlyphs" x="206.29" y="1341.23">100</text>
<line x1="244.5" y1="1274.76" x2="256.5" y2="1274.76" stroke="#000" stroke-width="4.2"/>
<text font-size="19.34" font-weight="bold" textLength="34.2" lengthAdjust="spacingAndGlyphs" x="206.29" y="1281.46">200</text>
<line x1="244.5" y1="1214.99" x2="256.5" y2="1214.99" stroke="#000" stroke-width="4.2"/>
<text font-size="19.34" font-weight="bold" textLength="34.2" lengthAdjust="spacingAndGlyphs" x="206.29" y="1221.69">300</text>
<line x1="318.75" y1="1394.3" x2="318.75" y2="1404.8" stroke="#000" stroke-width="4.2"/>
<line x1="458.6" y1="1394.3" x2="458.6" y2="1404.8" stroke="#000" stroke-width="4.2"/>
<line x1="271.75" y1="1215" x2="290.25" y2="1215" stroke="#c0c0c0" stroke-width="10.5" stroke-linecap="round"/>
<circle cx="281" cy="1302.6" r="3.9" fill="none" stroke="#c0c0c0" stroke-width="3.6"/>
<line x1="309.75" y1="1215" x2="327.55" y2="1215" stroke="#c0c0c0" stroke-width="10.5" stroke-linecap="round"/>
<ellipse cx="318.75" cy="1244" rx="4.2" ry="3.4" fill="#c0c0c0"/>
<rect x="344.5" y="1211.5" width="25.5" height="7.5" fill="#000000"/>
<rect x="353.4" y="1222.5" width="8" height="7" fill="#000000"/>
<rect x="353.4" y="1232.5" width="8" height="7" fill="#000000"/>
<rect x="352.4" y="1258" width="10.4" height="8" fill="#000000"/>
<rect x="353.4" y="1281" width="8.6" height="12" fill="#000000"/>
<rect x="351.8" y="1361" width="9" height="8" fill="#000000"/>
<rect x="356" y="1358.5" width="7" height="6" fill="#000000"/>
<line x1="411.25" y1="1215" x2="429.75" y2="1215" stroke="#e38dc3" stroke-width="10.5" stroke-linecap="round"/>
<circle cx="423.8" cy="1243" r="3.9" fill="none" stroke="#e38dc3" stroke-width="3.8"/>
<circle cx="417" cy="1250.5" r="3.9" fill="none" stroke="#e38dc3" stroke-width="3.8"/>
<circle cx="420.3" cy="1276.7" r="3.9" fill="none" stroke="#e38dc3" stroke-width="3.8"/>
<circle cx="420.3" cy="1285.7" r="3.9" fill="none" stroke="#e38dc3" stroke-width="3.8"/>
<circle cx="420.3" cy="1304.4" r="3.9" fill="none" stroke="#e38dc3" stroke-width="3.8"/>
<circle cx="420.3" cy="1334" r="3.9" fill="none" stroke="#e38dc3" stroke-width="3.8"/>
<ellipse cx="450.6" cy="1215" rx="4.2" ry="3.6" fill="#e38dc3"/>
<ellipse cx="458.6" cy="1215" rx="4.2" ry="3.6" fill="#e38dc3"/>
<ellipse cx="467" cy="1215" rx="4.2" ry="3.6" fill="#e38dc3"/>
<ellipse cx="458.6" cy="1227" rx="4.2" ry="3.6" fill="#e38dc3"/>
<ellipse cx="458.6" cy="1247" rx="4.2" ry="3.6" fill="#e38dc3"/>
<ellipse cx="458.6" cy="1275" rx="4.2" ry="3.6" fill="#e38dc3"/>
<ellipse cx="454" cy="1303.5" rx="4.2" ry="3.6" fill="#e38dc3"/>
<ellipse cx="463" cy="1301.4" rx="4.2" ry="3.6" fill="#e38dc3"/>
<ellipse cx="458.6" cy="1317" rx="4.2" ry="3.6" fill="#e38dc3"/>
<ellipse cx="458.6" cy="1344.3" rx="4.2" ry="3.6" fill="#e38dc3"/>
<rect x="484" y="1211.5" width="25.3" height="7.5" fill="#ee3a9f"/>
<rect x="488.3" y="1255.15" width="8" height="7.5" fill="#ee3a9f"/>
<rect x="497.2" y="1255.15" width="8" height="7.5" fill="#ee3a9f"/>
<rect x="492" y="1267.05" width="8" height="7.5" fill="#ee3a9f"/>
<rect x="492" y="1325.95" width="8" height="7.5" fill="#ee3a9f"/>
<rect x="492" y="1368.25" width="8" height="7.5" fill="#ee3a9f"/>
<text font-size="18.3" font-weight="bold" textLength="54.97" lengthAdjust="spacingAndGlyphs" x="294.18" y="1427">CTRL</text>
<text font-size="18.3" font-weight="bold" textLength="30.54" lengthAdjust="spacingAndGlyphs" x="442.68" y="1424.6">KO</text>
<text font-size="24.96" textLength="164" lengthAdjust="spacingAndGlyphs" transform="translate(196.5,1383.7) rotate(-90)" stroke="#000" stroke-width="0.55">Latency to eat (s)</text>
<path d="M318.5 1201.4 V1186.5 H357 V1201.4" fill="none" stroke="#000" stroke-width="3.6" stroke-linejoin="miter" stroke-linecap="round"/>
<text font-size="32.88" font-weight="bold" textLength="14.18" lengthAdjust="spacingAndGlyphs" x="330.69" y="1187.22">*</text>
<text font-size="43.68" font-weight="bold" textLength="50.98" lengthAdjust="spacingAndGlyphs" x="1082.09" y="1108">H.</text>
<text font-size="43.16" font-weight="bold" textLength="585.08" lengthAdjust="spacingAndGlyphs" x="1194.73" y="1106.5">Novelty Suppressed Feeding</text>
<text font-size="43.16" font-weight="bold" textLength="123.12" lengthAdjust="spacingAndGlyphs" x="1424.62" y="1152.7">Males</text>
<path d="M1139 1663.3 H1639.5 V1624.5 H1828.4 V1624.5" fill="none" stroke="#9c9c9c" stroke-width="2" stroke-linejoin="miter"/>
<path d="M1139 1663.3 H1428.2 V1614.5 H1617 V1566.5 H1686.2 V1517.4 H1711 V1468.8 H1750.8 V1420.2 H1780 V1371 H1817 V1371" fill="none" stroke="#c0c0c0" stroke-width="2" stroke-dasharray="9 4" stroke-linejoin="miter"/>
<path d="M1139 1663.3 H1453.5 V1620 H1678.8 V1577.5 H1828.4 V1577.5" fill="none" stroke="#000000" stroke-width="2.6" stroke-linejoin="miter"/>
<path d="M1139 1663.3 H1386.9 V1633.8 H1494.8 V1603.7 H1547.8 V1574 H1552.3 V1544.2 H1676.7 V1513.8 H1695 V1484 H1777.9 V1454 H1828.4 V1454" fill="none" stroke="#8fe1f6" stroke-width="2.2" stroke-linejoin="miter"/>
<path d="M1139 1663.3 H1295.2 V1620.2 H1327.4 V1534 H1343.5 V1447.4 H1446.8 V1404.5 H1479.2 V1361.3 H1678.8 V1318 H1823.7 V1273" fill="none" stroke="#8fe1f6" stroke-width="2" stroke-dasharray="9 4" stroke-linejoin="miter"/>
<path d="M1139 1663.3 H1223.8 V1630.7 H1311 V1598.5 H1320 V1566.3 H1431 V1533.9 H1541.3 V1501.6 H1658.3 V1468.8 H1690.7 V1436.6 H1718.3 V1404.5 H1817 V1371 H1828.4 V1371" fill="none" stroke="#2f419e" stroke-width="2.2" stroke-linejoin="miter"/>
<rect x="1826.6" y="1616.5" width="3.6" height="8" fill="#000"/>
<rect x="1826.6" y="1569.5" width="3.6" height="8" fill="#000"/>
<rect x="1826.6" y="1446" width="3.6" height="8" fill="#000"/>
<rect x="1826.6" y="1363" width="3.6" height="8" fill="#000"/>
<line x1="1139" y1="1272.5" x2="1139" y2="1665.6" stroke="#000" stroke-width="4.6"/>
<line x1="1119.3" y1="1663.3" x2="1830.5" y2="1663.3" stroke="#000" stroke-width="4.6"/>
<line x1="1141" y1="1662.8" x2="1639.5" y2="1662.8" stroke="#b0b0b0" stroke-width="1.6"/>
<line x1="1119.3" y1="1273.5" x2="1141.3" y2="1273.5" stroke="#000" stroke-width="4.7"/>
<text font-size="34.32" font-weight="bold" textLength="58.64" lengthAdjust="spacingAndGlyphs" x="1053.59" y="1284.7">100</text>
<line x1="1119.3" y1="1468.4" x2="1141.3" y2="1468.4" stroke="#000" stroke-width="4.7"/>
<text font-size="34.32" font-weight="bold" textLength="39.09" lengthAdjust="spacingAndGlyphs" x="1073.1" y="1479.6">50</text>
<line x1="1119.3" y1="1663.3" x2="1141.3" y2="1663.3" stroke="#000" stroke-width="4.7"/>
<text font-size="34.32" font-weight="bold" textLength="19.55" lengthAdjust="spacingAndGlyphs" x="1092.6" y="1674.5">0</text>
<line x1="1139" y1="1663.3" x2="1139" y2="1680" stroke="#000" stroke-width="4.6"/>
<text font-size="33.8" font-weight="bold" textLength="19.83" lengthAdjust="spacingAndGlyphs" x="1129.1" y="1713">0</text>
<line x1="1368.75" y1="1663.3" x2="1368.75" y2="1680" stroke="#000" stroke-width="4.6"/>
<text font-size="33.8" font-weight="bold" textLength="59.5" lengthAdjust="spacingAndGlyphs" x="1338.71" y="1713">100</text>
<line x1="1598.5" y1="1663.3" x2="1598.5" y2="1680" stroke="#000" stroke-width="4.6"/>
<text font-size="33.8" font-weight="bold" textLength="59.5" lengthAdjust="spacingAndGlyphs" x="1568.9" y="1713">200</text>
<line x1="1828.25" y1="1663.3" x2="1828.25" y2="1680" stroke="#000" stroke-width="4.6"/>
<text font-size="33.8" font-weight="bold" textLength="59.5" lengthAdjust="spacingAndGlyphs" x="1798.83" y="1713">300</text>
<text font-size="34.32" font-weight="bold" textLength="271.78" lengthAdjust="spacingAndGlyphs" x="1340.85" y="1750">Latency to eat (s)</text>
<text font-size="34.84" font-weight="bold" textLength="299.08" lengthAdjust="spacingAndGlyphs" transform="translate(1055.7,1614.92) rotate(-90)">Percentage of mice</text>
<rect x="1237.2" y="1230.6" width="26.4" height="130.4" fill="#c0c0c0"/>
<rect x="1243.6" y="1237" width="13.6" height="124" fill="url(#psg)"/>
<rect x="1272" y="1205" width="26.2" height="156" fill="#c0c0c0"/>
<rect x="1278.4" y="1211.4" width="13.4" height="149.6" fill="#fff"/>
<rect x="1307" y="1215.6" width="26" height="145.4" fill="#000000"/>
<rect x="1313.4" y="1222" width="13.2" height="139" fill="#7f8180"/>
<rect x="1365" y="1287.8" width="26" height="73.2" fill="#8fe1f6"/>
<rect x="1371.4" y="1294.2" width="13.2" height="66.8" fill="url(#psb)"/>
<rect x="1399.4" y="1231.3" width="25.9" height="129.7" fill="#8fe1f6"/>
<rect x="1405.8" y="1237.7" width="13.1" height="123.3" fill="#fff"/>
<rect x="1434.2" y="1254.4" width="26.2" height="106.6" fill="#4a5dab"/>
<rect x="1440.6" y="1260.8" width="13.4" height="100.2" fill="#8fe1f6"/>
<line x1="1250.4" y1="1221.6" x2="1250.4" y2="1239.6" stroke="#c0c0c0" stroke-width="1.6"/>
<line x1="1244.4" y1="1221.6" x2="1256.4" y2="1221.6" stroke="#c0c0c0" stroke-width="1.6"/>
<line x1="1244.4" y1="1239.6" x2="1256.4" y2="1239.6" stroke="#c0c0c0" stroke-width="1.6"/>
<line x1="1320" y1="1204.1" x2="1320" y2="1224.6" stroke="#000000" stroke-width="2"/>
<line x1="1313" y1="1204.1" x2="1327" y2="1204.1" stroke="#000000" stroke-width="2"/>
<line x1="1313" y1="1224.6" x2="1327" y2="1224.6" stroke="#000000" stroke-width="2"/>
<line x1="1378" y1="1275.8" x2="1378" y2="1299.8" stroke="#8fe1f6" stroke-width="1.8"/>
<line x1="1371" y1="1275.8" x2="1385" y2="1275.8" stroke="#8fe1f6" stroke-width="1.8"/>
<line x1="1371" y1="1299.8" x2="1385" y2="1299.8" stroke="#8fe1f6" stroke-width="1.8"/>
<line x1="1412.3" y1="1223" x2="1412.3" y2="1241.7" stroke="#8fe1f6" stroke-width="1.8"/>
<line x1="1405.3" y1="1223" x2="1419.3" y2="1223" stroke="#8fe1f6" stroke-width="1.8"/>
<line x1="1405.3" y1="1241.7" x2="1419.3" y2="1241.7" stroke="#8fe1f6" stroke-width="1.8"/>
<line x1="1447.4" y1="1240.8" x2="1447.4" y2="1268" stroke="#4a5dab" stroke-width="2"/>
<line x1="1440.4" y1="1240.8" x2="1454.4" y2="1240.8" stroke="#4a5dab" stroke-width="2"/>
<line x1="1440.4" y1="1268" x2="1454.4" y2="1268" stroke="#4a5dab" stroke-width="2"/>
<line x1="1227.5" y1="1202" x2="1227.5" y2="1363.2" stroke="#000" stroke-width="4.4"/>
<line x1="1215.5" y1="1361" x2="1470.3" y2="1361" stroke="#000" stroke-width="4.4"/>
<line x1="1215.5" y1="1361" x2="1227.5" y2="1361" stroke="#000" stroke-width="4.4"/>
<text font-size="18.51" font-weight="bold" textLength="10.53" lengthAdjust="spacingAndGlyphs" x="1203.25" y="1367.41">0</text>
<line x1="1215.5" y1="1308.7" x2="1227.5" y2="1308.7" stroke="#000" stroke-width="4.4"/>
<text font-size="18.51" font-weight="bold" textLength="31.6" lengthAdjust="spacingAndGlyphs" x="1182.23" y="1315.11">100</text>
<line x1="1215.5" y1="1256.4" x2="1227.5" y2="1256.4" stroke="#000" stroke-width="4.4"/>
<text font-size="18.51" font-weight="bold" textLength="31.6" lengthAdjust="spacingAndGlyphs" x="1182.23" y="1262.81">200</text>
<line x1="1215.5" y1="1204.1" x2="1227.5" y2="1204.1" stroke="#000" stroke-width="4.4"/>
<text font-size="18.51" font-weight="bold" textLength="31.6" lengthAdjust="spacingAndGlyphs" x="1182.23" y="1210.51">300</text>
<line x1="1285.4" y1="1361" x2="1285.4" y2="1371.7" stroke="#000" stroke-width="4.4"/>
<line x1="1412" y1="1361" x2="1412" y2="1371.7" stroke="#000" stroke-width="4.4"/>
<ellipse cx="1242.3" cy="1204.2" rx="5.4" ry="4.8" fill="#c0c0c0"/>
<ellipse cx="1258.6" cy="1204.2" rx="5.4" ry="4.8" fill="#c0c0c0"/>
<ellipse cx="1250.6" cy="1214" rx="5.4" ry="4.8" fill="#c0c0c0"/>
<ellipse cx="1250.6" cy="1221.4" rx="5.4" ry="4.8" fill="#c0c0c0"/>
<ellipse cx="1258.6" cy="1229.8" rx="5.4" ry="4.8" fill="#c0c0c0"/>
<ellipse cx="1242.3" cy="1236.3" rx="5.4" ry="4.8" fill="#c0c0c0"/>
<ellipse cx="1250.6" cy="1252.7" rx="5.4" ry="4.8" fill="#c0c0c0"/>
<ellipse cx="1250.6" cy="1295" rx="5.4" ry="4.8" fill="#c0c0c0"/>
<line x1="1277.75" y1="1204.2" x2="1292.55" y2="1204.2" stroke="#c0c0c0" stroke-width="9.5" stroke-linecap="round"/>
<ellipse cx="1284.8" cy="1246.7" rx="4" ry="3" fill="#c0c0c0"/>
<rect x="1308" y="1201" width="23.5" height="6.5" fill="#000000"/>
<rect x="1315.8" y="1234.5" width="7.6" height="6.6" fill="#000000"/>
<rect x="1315.8" y="1286" width="7.6" height="6.6" fill="#000000"/>
<circle cx="1377.7" cy="1204.2" r="3.9" fill="none" stroke="#8fe1f6" stroke-width="3.8"/>
<circle cx="1377.7" cy="1237.8" r="3.9" fill="none" stroke="#8fe1f6" stroke-width="3.8"/>
<circle cx="1377.7" cy="1284" r="3.9" fill="none" stroke="#8fe1f6" stroke-width="3.8"/>
<circle cx="1372" cy="1297" r="3.9" fill="none" stroke="#8fe1f6" stroke-width="3.8"/>
<circle cx="1383" cy="1297" r="3.9" fill="none" stroke="#8fe1f6" stroke-width="3.8"/>
<circle cx="1372" cy="1306" r="3.9" fill="none" stroke="#8fe1f6" stroke-width="3.8"/>
<circle cx="1383" cy="1306" r="3.9" fill="none" stroke="#8fe1f6" stroke-width="3.8"/>
<circle cx="1369" cy="1314" r="3.9" fill="none" stroke="#8fe1f6" stroke-width="3.8"/>
<circle cx="1378" cy="1318" r="3.9" fill="none" stroke="#8fe1f6" stroke-width="3.8"/>
<circle cx="1388" cy="1320" r="3.9" fill="none" stroke="#8fe1f6" stroke-width="3.8"/>
<circle cx="1378" cy="1328" r="3.9" fill="none" stroke="#8fe1f6" stroke-width="3.8"/>
<line x1="1404.5" y1="1204.2" x2="1420.5" y2="1204.2" stroke="#8fe1f6" stroke-width="7" stroke-linecap="round"/>
<ellipse cx="1412" cy="1215.5" rx="4" ry="3.2" fill="#8fe1f6"/>
<ellipse cx="1410" cy="1267.8" rx="4" ry="3.2" fill="#8fe1f6"/>
<ellipse cx="1414.5" cy="1266.6" rx="4" ry="3.2" fill="#8fe1f6"/>
<ellipse cx="1412" cy="1280" rx="4" ry="3.2" fill="#8fe1f6"/>
<ellipse cx="1412" cy="1304.8" rx="4" ry="3.2" fill="#8fe1f6"/>
<rect x="1443" y="1200.5" width="10.2" height="6.4" fill="#4a5dab"/>
<rect x="1435.4" y="1203.5" width="8" height="5.5" fill="#4a5dab"/>
<rect x="1444.5" y="1226" width="6.5" height="11" fill="#4a5dab"/>
<rect x="1443.8" y="1265.9" width="7.6" height="6.2" fill="#4a5dab"/>
<rect x="1443.8" y="1291.9" width="7.6" height="6.2" fill="#4a5dab"/>
<rect x="1439.7" y="1316.9" width="7.6" height="6.2" fill="#4a5dab"/>
<rect x="1447" y="1318.9" width="7.6" height="6.2" fill="#4a5dab"/>
<rect x="1443.8" y="1338.9" width="7.6" height="6.2" fill="#4a5dab"/>
<text font-size="17.26" font-weight="bold" textLength="49.83" lengthAdjust="spacingAndGlyphs" x="1259.95" y="1390.5">CTRL</text>
<text font-size="17.26" font-weight="bold" textLength="28.38" lengthAdjust="spacingAndGlyphs" x="1397.77" y="1390.5">KO</text>
<text font-size="21.32" textLength="145.66" lengthAdjust="spacingAndGlyphs" transform="translate(1173.5,1355.51) rotate(-90)" stroke="#000" stroke-width="0.5">Latency to eat (s)</text>
<path d="M1377.7 1185.4 V1172 H1409.8 V1185.4" fill="none" stroke="#000" stroke-width="3.6" stroke-linejoin="miter" stroke-linecap="round"/>
<text font-size="28.57" font-weight="bold" textLength="27.17" lengthAdjust="spacingAndGlyphs" x="1378.9" y="1171.36">**</text>
<text font-size="48.88" font-weight="bold" textLength="51.09" lengthAdjust="spacingAndGlyphs" x="157.49" y="1852.3">E.</text>
<text font-size="42.33" font-weight="bold" textLength="570.1" lengthAdjust="spacingAndGlyphs" x="249.26" y="1852.3">Elevated Plus Maze Females</text>
<rect x="305.4" y="2342.3" width="50" height="96.7" fill="#c0c0c0"/>
<rect x="312.4" y="2349.3" width="36" height="89.7" fill="url(#pbg)"/>
<rect x="382" y="2372" width="50.4" height="67" fill="#c0c0c0"/>
<rect x="389" y="2379" width="36.4" height="60" fill="#fff"/>
<rect x="460" y="2320.5" width="50" height="118.5" fill="#000000"/>
<rect x="467" y="2327.5" width="36" height="111.5" fill="#7f8180"/>
<rect x="588.4" y="2226.5" width="50" height="212.5" fill="#e38dc3"/>
<rect x="595.4" y="2233.5" width="36" height="205.5" fill="url(#pbp)"/>
<rect x="665.8" y="2331.5" width="50" height="107.5" fill="#e38dc3"/>
<rect x="672.8" y="2338.5" width="36" height="100.5" fill="#fff"/>
<rect x="742.6" y="2320.8" width="50.4" height="118.2" fill="#ee3a9f"/>
<rect x="749.6" y="2327.8" width="36.4" height="111.2" fill="#e38dc3"/>
<line x1="330.4" y1="2330.3" x2="330.4" y2="2354.3" stroke="#c0c0c0" stroke-width="2"/>
<line x1="316.9" y1="2330.3" x2="343.9" y2="2330.3" stroke="#c0c0c0" stroke-width="2"/>
<line x1="316.9" y1="2354.3" x2="343.9" y2="2354.3" stroke="#c0c0c0" stroke-width="2"/>
<line x1="407.2" y1="2363" x2="407.2" y2="2381" stroke="#c0c0c0" stroke-width="2"/>
<line x1="393.7" y1="2363" x2="420.7" y2="2363" stroke="#c0c0c0" stroke-width="2"/>
<line x1="393.7" y1="2381" x2="420.7" y2="2381" stroke="#c0c0c0" stroke-width="2"/>
<line x1="485" y1="2307" x2="485" y2="2334" stroke="#000000" stroke-width="2"/>
<line x1="471.5" y1="2307" x2="498.5" y2="2307" stroke="#000000" stroke-width="2"/>
<line x1="471.5" y1="2334" x2="498.5" y2="2334" stroke="#000000" stroke-width="2"/>
<line x1="613.4" y1="2186.5" x2="613.4" y2="2264.8" stroke="#e38dc3" stroke-width="2"/>
<line x1="599.9" y1="2186.5" x2="626.9" y2="2186.5" stroke="#e38dc3" stroke-width="2"/>
<line x1="599.9" y1="2264.8" x2="626.9" y2="2264.8" stroke="#e38dc3" stroke-width="2"/>
<line x1="690.8" y1="2317.3" x2="690.8" y2="2345.7" stroke="#e38dc3" stroke-width="2"/>
<line x1="677.3" y1="2317.3" x2="704.3" y2="2317.3" stroke="#e38dc3" stroke-width="2"/>
<line x1="677.3" y1="2345.7" x2="704.3" y2="2345.7" stroke="#e38dc3" stroke-width="2"/>
<line x1="767.8" y1="2308.3" x2="767.8" y2="2333.3" stroke="#ee3a9f" stroke-width="2"/>
<line x1="754.3" y1="2308.3" x2="781.3" y2="2308.3" stroke="#ee3a9f" stroke-width="2"/>
<line x1="754.3" y1="2333.3" x2="781.3" y2="2333.3" stroke="#ee3a9f" stroke-width="2"/>
<ellipse cx="330.7" cy="2291.7" rx="8.4" ry="7.4" fill="none" stroke="#c0c0c0" stroke-width="4.2"/>
<ellipse cx="312.8" cy="2313.4" rx="8.4" ry="7.4" fill="none" stroke="#c0c0c0" stroke-width="4.2"/>
<ellipse cx="330.7" cy="2311" rx="8.4" ry="7.4" fill="none" stroke="#c0c0c0" stroke-width="4.2"/>
<ellipse cx="348.5" cy="2314.9" rx="8.4" ry="7.4" fill="none" stroke="#c0c0c0" stroke-width="4.2"/>
<ellipse cx="311.3" cy="2352.7" rx="8.4" ry="7.4" fill="none" stroke="#c0c0c0" stroke-width="4.2"/>
<ellipse cx="348.5" cy="2361.6" rx="8.4" ry="7.4" fill="none" stroke="#c0c0c0" stroke-width="4.2"/>
<ellipse cx="330.7" cy="2373.5" rx="8.4" ry="7.4" fill="none" stroke="#c0c0c0" stroke-width="4.2"/>
<ellipse cx="312.8" cy="2380" rx="8.4" ry="7.4" fill="none" stroke="#c0c0c0" stroke-width="4.2"/>
<ellipse cx="348.5" cy="2376.5" rx="8.4" ry="7.4" fill="none" stroke="#c0c0c0" stroke-width="4.2"/>
<ellipse cx="424.4" cy="2320.5" rx="8.2" ry="7" fill="#c0c0c0"/>
<ellipse cx="389.6" cy="2326" rx="8.2" ry="7" fill="#c0c0c0"/>
<ellipse cx="412.5" cy="2327.4" rx="8.2" ry="7" fill="#c0c0c0"/>
<ellipse cx="401.2" cy="2335.7" rx="8.2" ry="7" fill="#c0c0c0"/>
<ellipse cx="401.2" cy="2351.2" rx="8.2" ry="7" fill="#c0c0c0"/>
<ellipse cx="389.6" cy="2363.7" rx="8.2" ry="7" fill="#c0c0c0"/>
<ellipse cx="424.4" cy="2364.6" rx="8.2" ry="7" fill="#c0c0c0"/>
<ellipse cx="412.5" cy="2372.6" rx="8.2" ry="7" fill="#c0c0c0"/>
<ellipse cx="401.2" cy="2382.4" rx="8.2" ry="7" fill="#c0c0c0"/>
<ellipse cx="424.4" cy="2381" rx="8.2" ry="7" fill="#c0c0c0"/>
<ellipse cx="412.5" cy="2393.75" rx="8.2" ry="7" fill="#c0c0c0"/>
<ellipse cx="406.5" cy="2422" rx="8.2" ry="7" fill="#c0c0c0"/>
<ellipse cx="418.5" cy="2424" rx="8.2" ry="7" fill="#c0c0c0"/>
<ellipse cx="394.6" cy="2431.5" rx="8.2" ry="7" fill="#c0c0c0"/>
<rect x="476.6" y="2187" width="16.4" height="14" fill="#000000"/>
<rect x="476.6" y="2225" width="16.4" height="14" fill="#000000"/>
<rect x="476.6" y="2245.6" width="16.4" height="14" fill="#000000"/>
<rect x="476.6" y="2263.4" width="16.4" height="14" fill="#000000"/>
<rect x="458.8" y="2301.6" width="16.4" height="14" fill="#000000"/>
<rect x="484.7" y="2304" width="16.4" height="14" fill="#000000"/>
<rect x="478.7" y="2341.2" width="16.4" height="14" fill="#000000"/>
<rect x="469.8" y="2337" width="16.4" height="14" fill="#000000"/>
<rect x="460.8" y="2362" width="16.4" height="14" fill="#000000"/>
<rect x="475.8" y="2360.6" width="16.4" height="14" fill="#000000"/>
<rect x="493.6" y="2356" width="16.4" height="14" fill="#000000"/>
<rect x="493.6" y="2372.5" width="16.4" height="14" fill="#000000"/>
<rect x="474.8" y="2341" width="16.4" height="14" fill="#000000"/>
<rect x="466.4" y="2364" width="16.4" height="14" fill="#000000"/>
<rect x="488.8" y="2345" width="16.4" height="14" fill="#000000"/>
<rect x="491.8" y="2374" width="16.4" height="14" fill="#000000"/>
<ellipse cx="613" cy="1992.8" rx="8.4" ry="7.4" fill="none" stroke="#e38dc3" stroke-width="4.2"/>
<ellipse cx="613" cy="2059.8" rx="8.4" ry="7.4" fill="none" stroke="#e38dc3" stroke-width="4.2"/>
<ellipse cx="613" cy="2205.7" rx="8.4" ry="7.4" fill="none" stroke="#e38dc3" stroke-width="4.2"/>
<ellipse cx="595.2" cy="2281.5" rx="8.4" ry="7.4" fill="none" stroke="#e38dc3" stroke-width="4.2"/>
<ellipse cx="613" cy="2277.7" rx="8.4" ry="7.4" fill="none" stroke="#e38dc3" stroke-width="4.2"/>
<ellipse cx="631" cy="2282" rx="8.4" ry="7.4" fill="none" stroke="#e38dc3" stroke-width="4.2"/>
<ellipse cx="613" cy="2292.9" rx="8.4" ry="7.4" fill="none" stroke="#e38dc3" stroke-width="4.2"/>
<ellipse cx="613" cy="2310.7" rx="8.4" ry="7.4" fill="none" stroke="#e38dc3" stroke-width="4.2"/>
<ellipse cx="613" cy="2327.7" rx="8.4" ry="7.4" fill="none" stroke="#e38dc3" stroke-width="4.2"/>
<ellipse cx="690.5" cy="2231" rx="8.3" ry="7" fill="#e38dc3"/>
<ellipse cx="686" cy="2289" rx="8.3" ry="7" fill="#e38dc3"/>
<ellipse cx="695" cy="2295" rx="8.3" ry="7" fill="#e38dc3"/>
<ellipse cx="672.6" cy="2332.7" rx="8.3" ry="7" fill="#e38dc3"/>
<ellipse cx="681.5" cy="2344" rx="8.3" ry="7" fill="#e38dc3"/>
<ellipse cx="699.4" cy="2353.6" rx="8.3" ry="7" fill="#e38dc3"/>
<ellipse cx="690.5" cy="2372.3" rx="8.3" ry="7" fill="#e38dc3"/>
<ellipse cx="690.5" cy="2396.7" rx="8.3" ry="7" fill="#e38dc3"/>
<rect x="759.7" y="2232" width="16.4" height="14" fill="#ee3a9f"/>
<rect x="750.1" y="2269.2" width="16.4" height="14" fill="#ee3a9f"/>
<rect x="768" y="2271" width="16.4" height="14" fill="#ee3a9f"/>
<rect x="768" y="2293" width="16.4" height="14" fill="#ee3a9f"/>
<rect x="750.1" y="2299" width="16.4" height="14" fill="#ee3a9f"/>
<rect x="776.8" y="2315.6" width="16.4" height="14" fill="#ee3a9f"/>
<rect x="759.7" y="2323.7" width="16.4" height="14" fill="#ee3a9f"/>
<rect x="741.8" y="2339.4" width="16.4" height="14" fill="#ee3a9f"/>
<rect x="776.8" y="2350.4" width="16.4" height="14" fill="#ee3a9f"/>
<rect x="759.7" y="2355" width="16.4" height="14" fill="#ee3a9f"/>
<rect x="759.7" y="2389.7" width="16.4" height="14" fill="#ee3a9f"/>
<line x1="279" y1="1972.1" x2="279" y2="2441.2" stroke="#000" stroke-width="4.5"/>
<line x1="256.2" y1="2439" x2="819.5" y2="2439" stroke="#000" stroke-width="4.5"/>
<line x1="256.2" y1="2439" x2="279" y2="2439" stroke="#000" stroke-width="4.5"/>
<text font-size="37.44" font-weight="bold" textLength="23.16" lengthAdjust="spacingAndGlyphs" x="224.76" y="2451.9">0</text>
<line x1="256.2" y1="2346.06" x2="279" y2="2346.06" stroke="#000" stroke-width="4.5"/>
<text font-size="37.44" font-weight="bold" textLength="46.31" lengthAdjust="spacingAndGlyphs" x="201.65" y="2358.96">50</text>
<line x1="256.2" y1="2253.12" x2="279" y2="2253.12" stroke="#000" stroke-width="4.5"/>
<text font-size="37.44" font-weight="bold" textLength="69.47" lengthAdjust="spacingAndGlyphs" x="178.54" y="2266.02">100</text>
<line x1="256.2" y1="2160.18" x2="279" y2="2160.18" stroke="#000" stroke-width="4.5"/>
<text font-size="37.44" font-weight="bold" textLength="69.47" lengthAdjust="spacingAndGlyphs" x="178.54" y="2173.08">150</text>
<line x1="256.2" y1="2067.24" x2="279" y2="2067.24" stroke="#000" stroke-width="4.5"/>
<text font-size="37.44" font-weight="bold" textLength="69.47" lengthAdjust="spacingAndGlyphs" x="178.54" y="2080.14">200</text>
<line x1="256.2" y1="1974.3" x2="279" y2="1974.3" stroke="#000" stroke-width="4.5"/>
<text font-size="37.44" font-weight="bold" textLength="69.47" lengthAdjust="spacingAndGlyphs" x="178.54" y="1987.2">250</text>
<line x1="407.2" y1="2439" x2="407.2" y2="2458.3" stroke="#000" stroke-width="4.5"/>
<line x1="690.5" y1="2439" x2="690.5" y2="2458.8" stroke="#000" stroke-width="4.5"/>
<text font-size="37.96" font-weight="bold" textLength="110.03" lengthAdjust="spacingAndGlyphs" x="352.85" y="2498.5">CTRL</text>
<text font-size="37.96" font-weight="bold" textLength="62.16" lengthAdjust="spacingAndGlyphs" x="659.31" y="2497.5">KO</text>
<text font-size="36.4" font-weight="bold" textLength="296.61" lengthAdjust="spacingAndGlyphs" transform="translate(154,2347.9) rotate(-90)"># open arm entries</text>
<path d="M407 2293.6 V1937.7 H484.8 V2167" fill="none" stroke="#000" stroke-width="4.5" stroke-linejoin="miter" stroke-linecap="round"/>
<path d="M612 1966 V1937.7 H690.5 V2204" fill="none" stroke="#000" stroke-width="4.5" stroke-linejoin="miter" stroke-linecap="round"/>
<text font-size="74.66" font-weight="bold" textLength="30.9" lengthAdjust="spacingAndGlyphs" x="430.51" y="1942.52">*</text>
<text font-size="74.66" font-weight="bold" textLength="96.41" lengthAdjust="spacingAndGlyphs" x="603.75" y="1942.52">***</text>
<text font-size="48.36" font-weight="bold" textLength="28.04" lengthAdjust="spacingAndGlyphs" x="1119.02" y="1835">I.</text>
<text font-size="39.83" font-weight="bold" textLength="478.12" lengthAdjust="spacingAndGlyphs" x="1235.97" y="1830.5">Elevated Plus Maze Males</text>
<rect x="1263.4" y="2227" width="52.4" height="210.8" fill="#c0c0c0"/>
<rect x="1270.4" y="2234" width="38.4" height="203.8" fill="url(#pbg)"/>
<rect x="1344" y="2303.9" width="52.7" height="133.9" fill="#c0c0c0"/>
<rect x="1351" y="2310.9" width="38.7" height="126.9" fill="#fff"/>
<rect x="1425" y="2343" width="52.7" height="94.8" fill="#000000"/>
<rect x="1432" y="2350" width="38.7" height="87.8" fill="#7f8180"/>
<rect x="1559" y="2195" width="52.7" height="242.8" fill="#8fe1f6"/>
<rect x="1566" y="2202" width="38.7" height="235.8" fill="url(#pbb)"/>
<rect x="1640.3" y="2304.7" width="52.4" height="133.1" fill="#8fe1f6"/>
<rect x="1647.3" y="2311.7" width="38.4" height="126.1" fill="#fff"/>
<rect x="1720.7" y="2294.5" width="52.1" height="143.3" fill="#4a5dab"/>
<rect x="1727.7" y="2301.5" width="38.1" height="136.3" fill="#8fe1f6"/>
<line x1="1289.6" y1="2203.3" x2="1289.6" y2="2251" stroke="#c0c0c0" stroke-width="2"/>
<line x1="1275.6" y1="2203.3" x2="1303.6" y2="2203.3" stroke="#c0c0c0" stroke-width="2"/>
<line x1="1275.6" y1="2251" x2="1303.6" y2="2251" stroke="#c0c0c0" stroke-width="2"/>
<line x1="1370.3" y1="2289" x2="1370.3" y2="2317.9" stroke="#c0c0c0" stroke-width="2"/>
<line x1="1356.3" y1="2289" x2="1384.3" y2="2289" stroke="#c0c0c0" stroke-width="2"/>
<line x1="1356.3" y1="2317.9" x2="1384.3" y2="2317.9" stroke="#c0c0c0" stroke-width="2"/>
<line x1="1451.3" y1="2331" x2="1451.3" y2="2355" stroke="#000000" stroke-width="2"/>
<line x1="1437.3" y1="2331" x2="1465.3" y2="2331" stroke="#000000" stroke-width="2"/>
<line x1="1437.3" y1="2355" x2="1465.3" y2="2355" stroke="#000000" stroke-width="2"/>
<line x1="1585.4" y1="2156.9" x2="1585.4" y2="2233" stroke="#8fe1f6" stroke-width="2"/>
<line x1="1571.4" y1="2156.9" x2="1599.4" y2="2156.9" stroke="#8fe1f6" stroke-width="2"/>
<line x1="1571.4" y1="2233" x2="1599.4" y2="2233" stroke="#8fe1f6" stroke-width="2"/>
<line x1="1666.5" y1="2282.5" x2="1666.5" y2="2326" stroke="#8fe1f6" stroke-width="2"/>
<line x1="1652.5" y1="2282.5" x2="1680.5" y2="2282.5" stroke="#8fe1f6" stroke-width="2"/>
<line x1="1652.5" y1="2326" x2="1680.5" y2="2326" stroke="#8fe1f6" stroke-width="2"/>
<line x1="1746.7" y1="2277" x2="1746.7" y2="2312" stroke="#4a5dab" stroke-width="2"/>
<line x1="1732.7" y1="2277" x2="1760.7" y2="2277" stroke="#4a5dab" stroke-width="2"/>
<line x1="1732.7" y1="2312" x2="1760.7" y2="2312" stroke="#4a5dab" stroke-width="2"/>
<ellipse cx="1271" cy="2156.5" rx="10.5" ry="8.6" fill="#c0c0c0"/>
<ellipse cx="1308.3" cy="2154" rx="10.5" ry="8.6" fill="#c0c0c0"/>
<ellipse cx="1271" cy="2178.6" rx="10.5" ry="8.6" fill="#c0c0c0"/>
<ellipse cx="1308.3" cy="2174" rx="10.5" ry="8.6" fill="#c0c0c0"/>
<ellipse cx="1289.6" cy="2262" rx="10.5" ry="8.6" fill="#c0c0c0"/>
<ellipse cx="1289.6" cy="2279" rx="10.5" ry="8.6" fill="#c0c0c0"/>
<ellipse cx="1271" cy="2305.4" rx="10.5" ry="8.6" fill="#c0c0c0"/>
<ellipse cx="1308.3" cy="2304.5" rx="10.5" ry="8.6" fill="#c0c0c0"/>
<ellipse cx="1370" cy="2222" rx="8.6" ry="6.6" fill="#c0c0c0"/>
<ellipse cx="1370" cy="2251" rx="8.6" ry="6.6" fill="#c0c0c0"/>
<ellipse cx="1352" cy="2295" rx="8.6" ry="6.6" fill="#c0c0c0"/>
<ellipse cx="1370" cy="2288" rx="8.6" ry="6.6" fill="#c0c0c0"/>
<ellipse cx="1388.7" cy="2290.5" rx="8.6" ry="6.6" fill="#c0c0c0"/>
<ellipse cx="1388.7" cy="2304.5" rx="8.6" ry="6.6" fill="#c0c0c0"/>
<ellipse cx="1388.7" cy="2334.8" rx="8.6" ry="6.6" fill="#c0c0c0"/>
<ellipse cx="1370" cy="2343" rx="8.6" ry="6.6" fill="#c0c0c0"/>
<ellipse cx="1388.7" cy="2349" rx="8.6" ry="6.6" fill="#c0c0c0"/>
<ellipse cx="1352" cy="2358.6" rx="8.6" ry="6.6" fill="#c0c0c0"/>
<rect x="1443" y="2255.5" width="16.4" height="13" fill="#000000"/>
<rect x="1430.2" y="2321.5" width="16.4" height="13" fill="#000000"/>
<rect x="1422.3" y="2321.5" width="16.4" height="13" fill="#000000"/>
<rect x="1449.5" y="2329.2" width="16.4" height="13" fill="#000000"/>
<rect x="1438.8" y="2338.5" width="16.4" height="13" fill="#000000"/>
<rect x="1456.8" y="2345.5" width="16.4" height="13" fill="#000000"/>
<rect x="1425.8" y="2367.5" width="16.4" height="13" fill="#000000"/>
<rect x="1458.5" y="2364.5" width="16.4" height="13" fill="#000000"/>
<rect x="1441.8" y="2361.5" width="16.4" height="13" fill="#000000"/>
<ellipse cx="1567" cy="2027" rx="9.2" ry="7.2" fill="none" stroke="#8fe1f6" stroke-width="3.6"/>
<ellipse cx="1603.8" cy="2037.7" rx="9.2" ry="7.2" fill="none" stroke="#8fe1f6" stroke-width="3.6"/>
<ellipse cx="1585.5" cy="2097.3" rx="9.2" ry="7.2" fill="none" stroke="#8fe1f6" stroke-width="3.6"/>
<ellipse cx="1585.5" cy="2207" rx="9.2" ry="7.2" fill="none" stroke="#8fe1f6" stroke-width="3.6"/>
<ellipse cx="1566.8" cy="2237.9" rx="9.2" ry="7.2" fill="none" stroke="#8fe1f6" stroke-width="3.6"/>
<ellipse cx="1604.2" cy="2239.7" rx="9.2" ry="7.2" fill="none" stroke="#8fe1f6" stroke-width="3.6"/>
<ellipse cx="1585.5" cy="2255" rx="9.2" ry="7.2" fill="none" stroke="#8fe1f6" stroke-width="3.6"/>
<ellipse cx="1585.5" cy="2303" rx="9.2" ry="7.2" fill="none" stroke="#8fe1f6" stroke-width="3.6"/>
<ellipse cx="1585.5" cy="2347" rx="9.2" ry="7.2" fill="none" stroke="#8fe1f6" stroke-width="3.6"/>
<ellipse cx="1666.5" cy="2130" rx="8.6" ry="6.6" fill="#8fe1f6"/>
<ellipse cx="1666.5" cy="2231" rx="8.6" ry="6.6" fill="#8fe1f6"/>
<ellipse cx="1659.8" cy="2259" rx="8.6" ry="6.6" fill="#8fe1f6"/>
<ellipse cx="1673" cy="2257" rx="8.6" ry="6.6" fill="#8fe1f6"/>
<ellipse cx="1659.8" cy="2308.7" rx="8.6" ry="6.6" fill="#8fe1f6"/>
<ellipse cx="1673" cy="2308.7" rx="8.6" ry="6.6" fill="#8fe1f6"/>
<ellipse cx="1666.5" cy="2323" rx="8.6" ry="6.6" fill="#8fe1f6"/>
<ellipse cx="1646.4" cy="2347" rx="8.6" ry="6.6" fill="#8fe1f6"/>
<ellipse cx="1659.8" cy="2352" rx="8.6" ry="6.6" fill="#8fe1f6"/>
<ellipse cx="1673" cy="2348" rx="8.6" ry="6.6" fill="#8fe1f6"/>
<ellipse cx="1685" cy="2354" rx="8.6" ry="6.6" fill="#8fe1f6"/>
<ellipse cx="1666.5" cy="2424" rx="8.6" ry="6.6" fill="#8fe1f6"/>
<rect x="1738.2" y="2174.5" width="16.8" height="13" fill="#4a5dab"/>
<rect x="1738.2" y="2205.2" width="16.8" height="13" fill="#4a5dab"/>
<rect x="1738.2" y="2227.4" width="16.8" height="13" fill="#4a5dab"/>
<rect x="1720.3" y="2281.3" width="16.8" height="13" fill="#4a5dab"/>
<rect x="1738.2" y="2287.2" width="16.8" height="13" fill="#4a5dab"/>
<rect x="1756.9" y="2300" width="16.8" height="13" fill="#4a5dab"/>
<rect x="1720.3" y="2310.5" width="16.8" height="13" fill="#4a5dab"/>
<rect x="1738.2" y="2308" width="16.8" height="13" fill="#4a5dab"/>
<rect x="1756.9" y="2317.5" width="16.8" height="13" fill="#4a5dab"/>
<rect x="1738.2" y="2334.5" width="16.8" height="13" fill="#4a5dab"/>
<rect x="1756.9" y="2341.5" width="16.8" height="13" fill="#4a5dab"/>
<rect x="1720.3" y="2348.1" width="16.8" height="13" fill="#4a5dab"/>
<line x1="1236" y1="1996.2" x2="1236" y2="2440" stroke="#000" stroke-width="4.4"/>
<line x1="1212.4" y1="2437.8" x2="1801" y2="2437.8" stroke="#000" stroke-width="4.4"/>
<line x1="1212.4" y1="2437.8" x2="1236" y2="2437.8" stroke="#000" stroke-width="4.8"/>
<text font-size="35.36" font-weight="bold" textLength="17.98" lengthAdjust="spacingAndGlyphs" x="1185.75" y="2449.8">0</text>
<line x1="1212.4" y1="2328" x2="1236" y2="2328" stroke="#000" stroke-width="4.8"/>
<text font-size="35.36" font-weight="bold" textLength="35.96" lengthAdjust="spacingAndGlyphs" x="1167.81" y="2340">50</text>
<line x1="1212.4" y1="2218.2" x2="1236" y2="2218.2" stroke="#000" stroke-width="4.8"/>
<text font-size="35.36" font-weight="bold" textLength="53.94" lengthAdjust="spacingAndGlyphs" x="1149.87" y="2230.2">100</text>
<line x1="1212.4" y1="2108.4" x2="1236" y2="2108.4" stroke="#000" stroke-width="4.8"/>
<text font-size="35.36" font-weight="bold" textLength="53.94" lengthAdjust="spacingAndGlyphs" x="1149.87" y="2120.4">150</text>
<line x1="1212.4" y1="1998.6" x2="1236" y2="1998.6" stroke="#000" stroke-width="4.8"/>
<text font-size="35.36" font-weight="bold" textLength="53.94" lengthAdjust="spacingAndGlyphs" x="1149.87" y="2010.6">200</text>
<line x1="1370" y1="2437.8" x2="1370" y2="2455.8" stroke="#000" stroke-width="4.5"/>
<line x1="1665.7" y1="2437.8" x2="1665.7" y2="2456.3" stroke="#000" stroke-width="4.5"/>
<text font-size="34.84" font-weight="bold" textLength="100.07" lengthAdjust="spacingAndGlyphs" x="1317.8" y="2493.5">CTRL</text>
<text font-size="34.84" font-weight="bold" textLength="56.33" lengthAdjust="spacingAndGlyphs" x="1642.56" y="2496.3">KO</text>
<text font-size="35.88" font-weight="bold" textLength="312.21" lengthAdjust="spacingAndGlyphs" transform="translate(1139.3,2381.53) rotate(-90)"># open arm entries</text>
<path d="M1289.6 2129 V1974.9 H1451.2 V2237" fill="none" stroke="#000" stroke-width="4.4" stroke-linejoin="miter" stroke-linecap="round"/>
<path d="M1585 1913.3 V1887 H1746.3 V2155.6" fill="none" stroke="#000" stroke-width="4.4" stroke-linejoin="miter" stroke-linecap="round"/>
<path d="M1585 2001 V1974.9 H1666 V2104.8" fill="none" stroke="#000" stroke-width="4.4" stroke-linejoin="miter" stroke-linecap="round"/>
<text font-size="64.15" font-weight="bold" textLength="65.92" lengthAdjust="spacingAndGlyphs" x="1338" y="1975.84">**</text>
<text font-size="64.15" font-weight="bold" textLength="65.92" lengthAdjust="spacingAndGlyphs" x="1633" y="1887.44">**</text>
<text font-size="64.15" font-weight="bold" textLength="65.92" lengthAdjust="spacingAndGlyphs" x="1593" y="1975.84">**</text>
</svg></body></html>
